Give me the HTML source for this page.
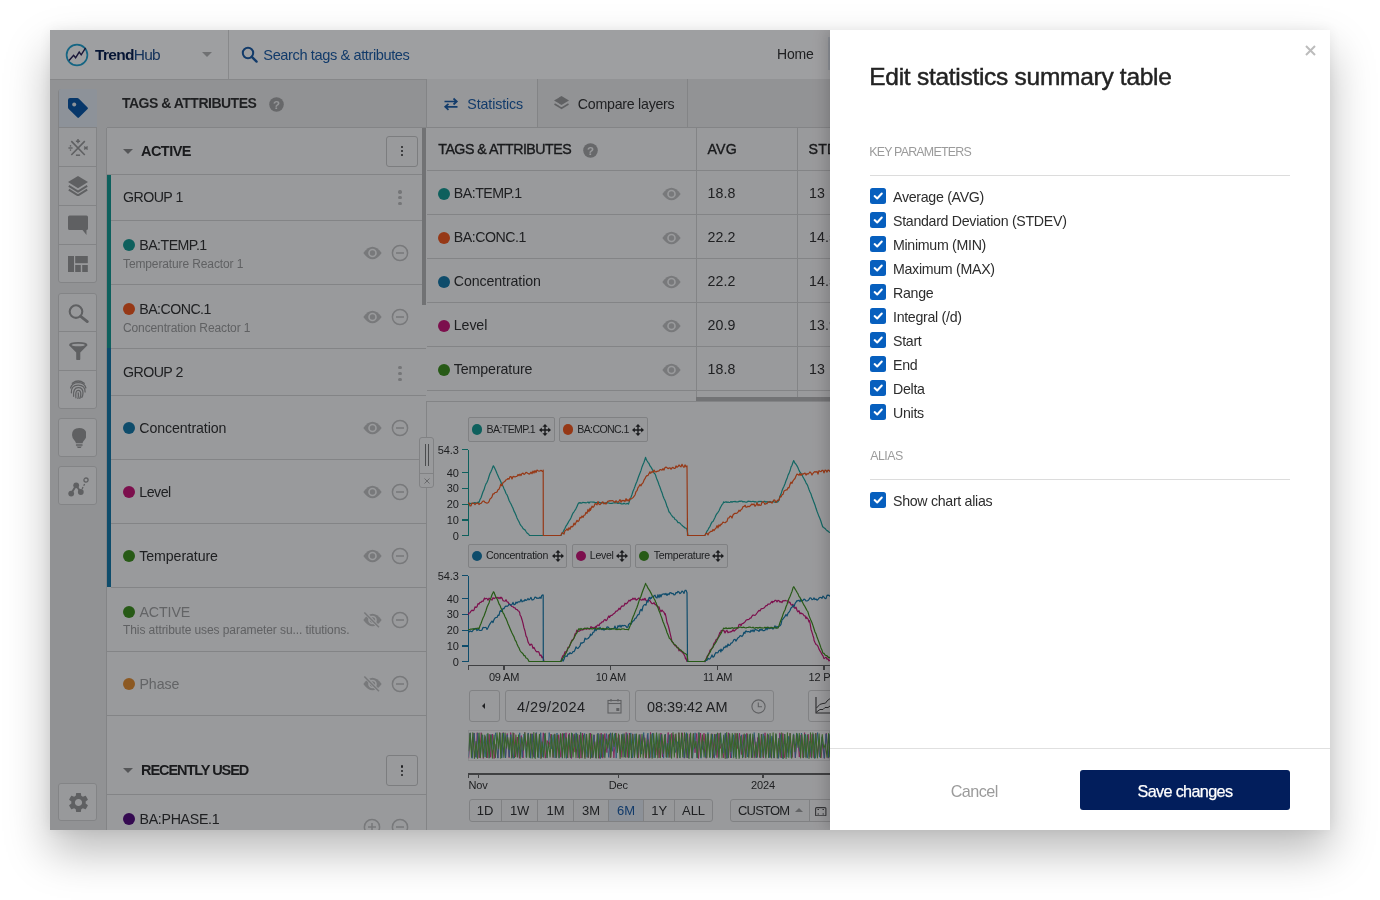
<!DOCTYPE html>
<html><head><meta charset="utf-8">
<style>
*{box-sizing:border-box;margin:0;padding:0}
html,body{width:1380px;height:900px;background:#fff;overflow:hidden}
body{position:relative;font-family:"Liberation Sans",Arial,sans-serif;color:#333}
.abs{position:absolute}
#win{position:absolute;left:50px;top:30px;width:1280px;height:800px;box-shadow:0 22px 42px rgba(0,0,0,0.27),0 0 12px rgba(0,0,0,0.06);overflow:hidden;background:#fff}
#app{will-change:transform;position:absolute;left:0;top:0;width:780px;height:800px;background:#f3f3f3;overflow:hidden}
#ov{position:absolute;left:0;top:0;width:780px;height:800px;background:rgba(0,2,7,0.38)}
#drawer{will-change:transform;position:absolute;left:0;top:0;width:1280px;height:800px;pointer-events:none}
#dpanel{position:absolute;left:780px;top:0;width:500px;height:800px;background:#fff;box-shadow:-3px 0 14px rgba(0,0,0,0.18)}
</style></head>
<body>
<div id="win">
<div id="app">
<div class="abs" style="left:0.00px;top:0.00px;width:780.00px;height:50.00px;background:#fff;"></div>
<div class="abs" style="left:0.00px;top:49.00px;width:780.00px;height:1.00px;background:#d9d9d9;"></div>
<svg class="abs" style="left:15.00px;top:13.00px;" width="24" height="24" viewBox="0 0 24 24"><circle cx="12" cy="12" r="10.4" fill="none" stroke="#23a2cf" stroke-width="1.7"/><path d="M4 17.6 L8.6 12.3 L10.6 14.8 L14.2 9 L16.2 11.8 L20.6 4.8" fill="none" stroke="#2a2458" stroke-width="1.45"/></svg>
<div class="abs" style="left:45.00px;top:14.73px;font-size:15.5px;line-height:19px;color:#0b2150;font-weight:normal;letter-spacing:-0.7px;white-space:nowrap;"><b style="color:#0b2150">Trend</b><span style="color:#24528f">Hub</span></div>
<div class="abs" style="left:152.00px;top:22.00px;width:0.00px;height:0.00px;border-left:5px solid transparent;border-right:5px solid transparent;border-top:5px solid #b5b5b5"></div>
<div class="abs" style="left:178.00px;top:0.00px;width:1.00px;height:49.00px;background:#dcdcdc;"></div>
<svg class="abs" style="left:191.00px;top:16.00px;" width="18" height="18" viewBox="0 0 18 18"><circle cx="7" cy="7" r="5.2" fill="none" stroke="#1e5ea7" stroke-width="2"/><path d="M10.8 10.8 L15.6 15.6" stroke="#1e5ea7" stroke-width="2.4" stroke-linecap="round"/></svg>
<div class="abs" style="left:213.30px;top:15.94px;font-size:14.6px;line-height:18px;color:#1e5ea7;font-weight:normal;letter-spacing:-0.4px;white-space:nowrap;">Search tags &amp; attributes</div>
<div class="abs" style="left:727.00px;top:15.85px;font-size:14px;line-height:17px;color:#333;font-weight:normal;letter-spacing:-0.2px;white-space:nowrap;">Home</div>
<div class="abs" style="left:777.50px;top:7.00px;width:2.50px;height:33.00px;background:#e2e8ef;"></div>
<div class="abs" style="left:0.00px;top:50.00px;width:56.00px;height:750.00px;background:#ebebeb;"></div>
<div class="abs" style="left:8.30px;top:58.60px;width:39.20px;height:194.40px;background:#f6f6f6;border:1px solid #d3d3d3;border-radius:3px"></div>
<div class="abs" style="left:9.10px;top:59.40px;width:37.60px;height:38.40px;background:#e4ebf3;border-radius:2px 2px 0 0"></div>
<svg class="abs" style="left:18.00px;top:68.00px;" width="20.5" height="20.5" viewBox="0 0 20.5 20.5"><path d="M0 2 Q0 0 2 0 H9.2 Q10.2 0 10.9 0.7 L19.6 9.4 Q20.4 10.2 19.6 11 L11 19.6 Q10.2 20.4 9.4 19.6 L0.7 10.9 Q0 10.2 0 9.2 Z" fill="#0c58a6"/><circle cx="6.2" cy="6.4" r="2" fill="#e5ecf3"/></svg>
<svg class="abs" style="left:18.00px;top:107.50px;" width="20" height="20" viewBox="0 0 20 20"><g stroke="#9a9a9a" fill="none"><path d="M3.3 3.1 L16.8 17 M16.8 3.1 L3.3 17" stroke-width="1.6"/><path d="M7.9 3.2 H12.1 M10 1 V5.3" stroke-width="1.5"/><path d="M7.9 17.2 H12.1" stroke-width="1.5"/><path d="M0.4 10 H4.6" stroke-width="1.4"/><path d="M16.2 8.6 L19.6 11.4 M19.6 8.6 L16.2 11.4" stroke-width="1.4"/></g><circle cx="2.5" cy="7.9" r="0.8" fill="#9a9a9a"/><circle cx="2.5" cy="12.1" r="0.8" fill="#9a9a9a"/></svg>
<svg class="abs" style="left:18.00px;top:146.00px;" width="20" height="20" viewBox="0 0 20 20"><path d="M10 0 L20 6.1 L10 12.3 L0 6.1 Z" fill="#9a9a9a"/><path d="M0.8 9.9 L10 15.6 L19.2 9.9" fill="none" stroke="#9a9a9a" stroke-width="2"/><path d="M0.8 13.7 L10 19.4 L19.2 13.7" fill="none" stroke="#9a9a9a" stroke-width="2"/></svg>
<svg class="abs" style="left:18.00px;top:184.50px;" width="20" height="20" viewBox="0 0 20 20"><path d="M1.5 0.5 H18.5 Q20 0.5 20 2 V13.5 Q20 15 18.5 15 V20 L14.5 15 H1.5 Q0 15 0 13.5 V2 Q0 0.5 1.5 0.5 Z" fill="#9a9a9a"/></svg>
<svg class="abs" style="left:18.00px;top:226.00px;" width="20" height="16" viewBox="0 0 20 16"><g fill="#9a9a9a"><rect x="0" y="0" width="6" height="16"/><rect x="7.2" y="0" width="12.6" height="7.2"/><rect x="7.2" y="9" width="5.6" height="7"/><rect x="14.2" y="9" width="5.6" height="7"/></g></svg>
<div class="abs" style="left:9.10px;top:97.00px;width:37.60px;height:1.00px;background:#d3d3d3;"></div>
<div class="abs" style="left:9.10px;top:136.00px;width:37.60px;height:1.00px;background:#d3d3d3;"></div>
<div class="abs" style="left:9.10px;top:175.00px;width:37.60px;height:1.00px;background:#d3d3d3;"></div>
<div class="abs" style="left:9.10px;top:214.00px;width:37.60px;height:1.00px;background:#d3d3d3;"></div>
<div class="abs" style="left:8.30px;top:262.70px;width:39.20px;height:116.80px;background:#f6f6f6;border:1px solid #d3d3d3;border-radius:3px"></div>
<svg class="abs" style="left:17.50px;top:273.50px;" width="21" height="19" viewBox="0 0 21 19"><circle cx="8" cy="7.6" r="6.3" fill="none" stroke="#9a9a9a" stroke-width="2.1"/><path d="M12.7 12.3 L19.3 17.6" stroke="#9a9a9a" stroke-width="2.8" stroke-linecap="round"/></svg>
<svg class="abs" style="left:19.00px;top:311.50px;" width="18.5" height="18.5" viewBox="0 0 18.5 18.5"><path d="M0 3.2 Q0 0 9.25 0 Q18.5 0 18.5 3.2 L11.3 10.5 V17 Q11.3 18.5 9.25 18.5 Q7.2 18.5 7.2 17 V10.5 Z" fill="#9a9a9a"/><ellipse cx="9.25" cy="3" rx="6.6" ry="1.3" fill="#f3f3f3"/></svg>
<svg class="abs" style="left:18.50px;top:349.50px;" width="18.5" height="19" viewBox="0 0 18.5 19"><g fill="none" stroke="#9a9a9a" stroke-width="1.25" stroke-linecap="round"><path d="M3.3 3.3 Q9.2 -1.3 15.2 3.3"/><path d="M1.6 8 Q3 2.6 9.2 2.6 Q15.6 2.6 16.9 8"/><path d="M2.4 12.8 Q1.8 5.2 9.2 5.2 Q16.2 5.2 16.1 12"/><path d="M4.6 16.3 Q3.8 7.7 9.2 7.7 Q14 7.7 14 13 Q13.9 15.6 12.8 17.4"/><path d="M6.9 17.8 Q6.2 10.3 9.2 10.3 Q11.8 10.3 11.8 14 Q11.8 16.7 10.8 18.4"/><path d="M9.2 12.8 Q9.7 16 8.9 18.6"/></g></svg>
<div class="abs" style="left:9.10px;top:301.00px;width:37.60px;height:1.00px;background:#d3d3d3;"></div>
<div class="abs" style="left:9.10px;top:340.00px;width:37.60px;height:1.00px;background:#d3d3d3;"></div>
<div class="abs" style="left:8.30px;top:388.40px;width:39.20px;height:38.60px;background:#f6f6f6;border:1px solid #d3d3d3;border-radius:3px"></div>
<svg class="abs" style="left:21.50px;top:398.00px;" width="14.5" height="20" viewBox="0 0 14.5 20"><g fill="#9a9a9a"><path d="M7.25 0 Q14.5 0 14.5 7 Q14.5 10 12 12.4 Q10.6 13.8 10.6 15.3 H3.9 Q3.9 13.8 2.5 12.4 Q0 10 0 7 Q0 0 7.25 0 Z"/><rect x="3.9" y="16.2" width="6.7" height="1.6" rx="0.5"/><path d="M4.6 18.4 H9.9 L8.6 20 H5.9 Z"/></g></svg>
<div class="abs" style="left:8.30px;top:436.40px;width:39.20px;height:38.90px;background:#f6f6f6;border:1px solid #d3d3d3;border-radius:3px"></div>
<svg class="abs" style="left:17.50px;top:446.50px;" width="21" height="20" viewBox="0 0 21 20"><path d="M3.2 16.6 L8.2 8.3 L12.6 15" fill="none" stroke="#9a9a9a" stroke-width="2"/><path d="M12.6 15 L17.3 5.5" fill="none" stroke="#9a9a9a" stroke-width="1.3" stroke-dasharray="2 1.5"/><circle cx="3.2" cy="16.6" r="2.9" fill="#9a9a9a"/><circle cx="8.2" cy="8.3" r="2.9" fill="#9a9a9a"/><circle cx="12.8" cy="15" r="2.9" fill="#9a9a9a"/><circle cx="18" cy="3.1" r="2.1" fill="none" stroke="#9a9a9a" stroke-width="1.3"/></svg>
<div class="abs" style="left:8.30px;top:752.80px;width:39.20px;height:38.20px;background:#f6f6f6;border:1px solid #d3d3d3;border-radius:3px"></div>
<svg class="abs" style="left:17.50px;top:761.50px;" width="21" height="21" viewBox="0 0 21 21"><g transform="translate(-1.5 -1.5) scale(1.0)"><path fill="#9a9a9a" d="M19.14 12.94c.04-.3.06-.61.06-.94 0-.32-.02-.64-.07-.94l2.03-1.58a.49.49 0 00.12-.61l-1.92-3.32a.488.488 0 00-.59-.22l-2.39.96c-.5-.38-1.03-.7-1.62-.94l-.36-2.54a.484.484 0 00-.48-.41h-3.84c-.24 0-.43.17-.47.41l-.36 2.54c-.59.24-1.13.57-1.62.94l-2.39-.96c-.22-.08-.47 0-.59.22L2.74 8.87c-.12.21-.08.47.12.61l2.03 1.58c-.05.3-.09.63-.09.94s.02.64.07.94l-2.03 1.58a.49.49 0 00-.12.61l1.92 3.32c.12.22.37.29.59.22l2.39-.96c.5.38 1.03.7 1.62.94l.36 2.54c.05.24.24.41.48.41h3.84c.24 0 .44-.17.47-.41l.36-2.54c.59-.24 1.13-.56 1.62-.94l2.39.96c.22.08.47 0 .59-.22l1.92-3.32c.12-.22.07-.47-.12-.61l-2.01-1.58zM12 15.6c-1.98 0-3.6-1.62-3.6-3.6s1.62-3.6 3.6-3.6 3.6 1.62 3.6 3.6-1.62 3.6-3.6 3.6z"/></g></svg>
<div class="abs" style="left:56.00px;top:50.00px;width:320.00px;height:750.00px;background:#ebebeb;"></div>
<div class="abs" style="left:72.00px;top:64.95px;font-size:14px;line-height:17px;color:#333;font-weight:bold;letter-spacing:-0.5px;white-space:nowrap;">TAGS &amp; ATTRIBUTES</div>
<svg class="abs" style="left:218.50px;top:66.50px;" width="15" height="15" viewBox="0 0 15 15"><circle cx="7.5" cy="7.5" r="7.3" fill="#a6a6a6"/><text x="7.5" y="11.8" text-anchor="middle" font-family="Liberation Sans" font-weight="bold" font-size="11.5" fill="#f0f0f0">?</text></svg>
<div class="abs" style="left:56.50px;top:97.50px;width:319.50px;height:702.50px;background:#f7f7f7;"></div>
<div class="abs" style="left:56.50px;top:97.00px;width:319.50px;height:1.00px;background:#d4d4d4;"></div>
<div class="abs" style="left:56.00px;top:97.50px;width:1.00px;height:702.50px;background:#d4d4d4;"></div>
<div class="abs" style="left:73.00px;top:119.00px;width:0.00px;height:0.00px;border-left:5px solid transparent;border-right:5px solid transparent;border-top:5px solid #8a8a8a"></div>
<div class="abs" style="left:91.00px;top:112.88px;font-size:14.5px;line-height:17px;color:#2b2b2b;font-weight:bold;letter-spacing:-0.55px;white-space:nowrap;">ACTIVE</div>
<div class="abs" style="left:336.00px;top:105.50px;width:32.00px;height:31.00px;border:1px solid #c8c8c8;border-radius:3px;background:#f7f7f7"></div>
<div class="abs" style="left:350.70px;top:115.60px;width:2.60px;height:2.60px;border-radius:50%;background:#333"></div>
<div class="abs" style="left:350.70px;top:119.70px;width:2.60px;height:2.60px;border-radius:50%;background:#333"></div>
<div class="abs" style="left:350.70px;top:123.80px;width:2.60px;height:2.60px;border-radius:50%;background:#333"></div>
<div class="abs" style="left:57.00px;top:144.00px;width:319.00px;height:1.00px;background:#d4d4d4;"></div>
<div class="abs" style="left:57.00px;top:145.00px;width:4.00px;height:173.00px;background:#189a92;"></div>
<div class="abs" style="left:73.00px;top:159.18px;font-size:14.2px;line-height:17px;color:#333;font-weight:normal;letter-spacing:-0.55px;white-space:nowrap;">GROUP 1</div>
<div class="abs" style="left:348.35px;top:160.35px;width:3.30px;height:3.30px;border-radius:50%;background:#bdbdbd"></div>
<div class="abs" style="left:348.35px;top:166.15px;width:3.30px;height:3.30px;border-radius:50%;background:#bdbdbd"></div>
<div class="abs" style="left:348.35px;top:171.95px;width:3.30px;height:3.30px;border-radius:50%;background:#bdbdbd"></div>
<div class="abs" style="left:61.00px;top:190.00px;width:315.00px;height:1.00px;background:#d4d4d4;"></div>
<div class="abs" style="left:73.00px;top:209.00px;width:12.00px;height:12.00px;border-radius:50%;background:#189a92"></div>
<div class="abs" style="left:89.30px;top:206.58px;font-size:14.2px;line-height:17px;color:#333;font-weight:normal;letter-spacing:-0.55px;white-space:nowrap;">BA:TEMP.1</div>
<div class="abs" style="left:73.00px;top:226.84px;font-size:12px;line-height:14px;color:#9b9b9b;font-weight:normal;letter-spacing:-0.12px;white-space:nowrap;">Temperature Reactor 1</div>
<svg class="abs" style="left:312.50px;top:216.00px;" width="19" height="14" viewBox="0 0 19 14"><path d="M0.3 7 Q9.5 -5.6 18.7 7 Q9.5 19.6 0.3 7 Z" fill="#c2c2c2"/><circle cx="9.5" cy="7" r="4.3" fill="#f7f7f7"/><circle cx="9.5" cy="7" r="2.7" fill="#c2c2c2"/></svg>
<svg class="abs" style="left:341.00px;top:214.00px;" width="18" height="18" viewBox="0 0 18 18"><circle cx="9" cy="9" r="7.6" fill="none" stroke="#c2c2c2" stroke-width="1.5"/><path d="M5 9 H13" stroke="#c2c2c2" stroke-width="1.6"/></svg>
<div class="abs" style="left:61.00px;top:254.00px;width:315.00px;height:1.00px;background:#d4d4d4;"></div>
<div class="abs" style="left:73.00px;top:273.00px;width:12.00px;height:12.00px;border-radius:50%;background:#f25a20"></div>
<div class="abs" style="left:89.30px;top:270.58px;font-size:14.2px;line-height:17px;color:#333;font-weight:normal;letter-spacing:-0.55px;white-space:nowrap;">BA:CONC.1</div>
<div class="abs" style="left:73.00px;top:290.84px;font-size:12px;line-height:14px;color:#9b9b9b;font-weight:normal;letter-spacing:-0.12px;white-space:nowrap;">Concentration Reactor 1</div>
<svg class="abs" style="left:312.50px;top:280.00px;" width="19" height="14" viewBox="0 0 19 14"><path d="M0.3 7 Q9.5 -5.6 18.7 7 Q9.5 19.6 0.3 7 Z" fill="#c2c2c2"/><circle cx="9.5" cy="7" r="4.3" fill="#f7f7f7"/><circle cx="9.5" cy="7" r="2.7" fill="#c2c2c2"/></svg>
<svg class="abs" style="left:341.00px;top:278.00px;" width="18" height="18" viewBox="0 0 18 18"><circle cx="9" cy="9" r="7.6" fill="none" stroke="#c2c2c2" stroke-width="1.5"/><path d="M5 9 H13" stroke="#c2c2c2" stroke-width="1.6"/></svg>
<div class="abs" style="left:61.00px;top:318.00px;width:315.00px;height:1.00px;background:#d4d4d4;"></div>
<div class="abs" style="left:57.00px;top:318.00px;width:4.00px;height:239.00px;background:#1879a9;"></div>
<div class="abs" style="left:73.00px;top:333.98px;font-size:14.2px;line-height:17px;color:#333;font-weight:normal;letter-spacing:-0.55px;white-space:nowrap;">GROUP 2</div>
<div class="abs" style="left:348.35px;top:335.95px;width:3.30px;height:3.30px;border-radius:50%;background:#bdbdbd"></div>
<div class="abs" style="left:348.35px;top:341.75px;width:3.30px;height:3.30px;border-radius:50%;background:#bdbdbd"></div>
<div class="abs" style="left:348.35px;top:347.55px;width:3.30px;height:3.30px;border-radius:50%;background:#bdbdbd"></div>
<div class="abs" style="left:61.00px;top:365.00px;width:315.00px;height:1.00px;background:#d4d4d4;"></div>
<div class="abs" style="left:73.00px;top:392.00px;width:12.00px;height:12.00px;border-radius:50%;background:#1879a9"></div>
<div class="abs" style="left:89.30px;top:389.88px;font-size:14.2px;line-height:17px;color:#333;font-weight:normal;letter-spacing:-0.1px;white-space:nowrap;">Concentration</div>
<svg class="abs" style="left:312.50px;top:391.00px;" width="19" height="14" viewBox="0 0 19 14"><path d="M0.3 7 Q9.5 -5.6 18.7 7 Q9.5 19.6 0.3 7 Z" fill="#c2c2c2"/><circle cx="9.5" cy="7" r="4.3" fill="#f7f7f7"/><circle cx="9.5" cy="7" r="2.7" fill="#c2c2c2"/></svg>
<svg class="abs" style="left:341.00px;top:389.00px;" width="18" height="18" viewBox="0 0 18 18"><circle cx="9" cy="9" r="7.6" fill="none" stroke="#c2c2c2" stroke-width="1.5"/><path d="M5 9 H13" stroke="#c2c2c2" stroke-width="1.6"/></svg>
<div class="abs" style="left:61.00px;top:429.00px;width:315.00px;height:1.00px;background:#d4d4d4;"></div>
<div class="abs" style="left:73.00px;top:456.00px;width:12.00px;height:12.00px;border-radius:50%;background:#c81878"></div>
<div class="abs" style="left:89.30px;top:453.88px;font-size:14.2px;line-height:17px;color:#333;font-weight:normal;letter-spacing:-0.5px;white-space:nowrap;">Level</div>
<svg class="abs" style="left:312.50px;top:455.00px;" width="19" height="14" viewBox="0 0 19 14"><path d="M0.3 7 Q9.5 -5.6 18.7 7 Q9.5 19.6 0.3 7 Z" fill="#c2c2c2"/><circle cx="9.5" cy="7" r="4.3" fill="#f7f7f7"/><circle cx="9.5" cy="7" r="2.7" fill="#c2c2c2"/></svg>
<svg class="abs" style="left:341.00px;top:453.00px;" width="18" height="18" viewBox="0 0 18 18"><circle cx="9" cy="9" r="7.6" fill="none" stroke="#c2c2c2" stroke-width="1.5"/><path d="M5 9 H13" stroke="#c2c2c2" stroke-width="1.6"/></svg>
<div class="abs" style="left:61.00px;top:493.00px;width:315.00px;height:1.00px;background:#d4d4d4;"></div>
<div class="abs" style="left:73.00px;top:520.00px;width:12.00px;height:12.00px;border-radius:50%;background:#409020"></div>
<div class="abs" style="left:89.30px;top:517.88px;font-size:14.2px;line-height:17px;color:#333;font-weight:normal;letter-spacing:-0.1px;white-space:nowrap;">Temperature</div>
<svg class="abs" style="left:312.50px;top:519.00px;" width="19" height="14" viewBox="0 0 19 14"><path d="M0.3 7 Q9.5 -5.6 18.7 7 Q9.5 19.6 0.3 7 Z" fill="#c2c2c2"/><circle cx="9.5" cy="7" r="4.3" fill="#f7f7f7"/><circle cx="9.5" cy="7" r="2.7" fill="#c2c2c2"/></svg>
<svg class="abs" style="left:341.00px;top:517.00px;" width="18" height="18" viewBox="0 0 18 18"><circle cx="9" cy="9" r="7.6" fill="none" stroke="#c2c2c2" stroke-width="1.5"/><path d="M5 9 H13" stroke="#c2c2c2" stroke-width="1.6"/></svg>
<div class="abs" style="left:61.00px;top:557.00px;width:315.00px;height:1.00px;background:#d4d4d4;"></div>
<div class="abs" style="left:73.00px;top:576.00px;width:12.00px;height:12.00px;border-radius:50%;background:#409020"></div>
<div class="abs" style="left:89.50px;top:574.18px;font-size:14.2px;line-height:17px;color:#a0a0a0;font-weight:normal;letter-spacing:-0.1px;white-space:nowrap;">ACTIVE</div>
<div class="abs" style="left:73.00px;top:593.44px;font-size:12px;line-height:14px;color:#9b9b9b;font-weight:normal;letter-spacing:-0.08px;white-space:nowrap;">This attribute uses parameter su... titutions.</div>
<svg class="abs" style="left:312.50px;top:582.00px;" width="19" height="16" viewBox="0 0 19 16"><path d="M0.3 8 Q9.5 -4.6 18.7 8 Q9.5 20.6 0.3 8 Z" fill="#c2c2c2"/><circle cx="9.5" cy="8" r="4.3" fill="#f7f7f7"/><circle cx="9.5" cy="8" r="2.7" fill="#c2c2c2"/><path d="M1.8 0.3 L16.2 15.6" stroke="#f7f7f7" stroke-width="3.4"/><path d="M1.3 0.5 L16 15.2" stroke="#c2c2c2" stroke-width="1.5"/></svg>
<svg class="abs" style="left:341.00px;top:581.00px;" width="18" height="18" viewBox="0 0 18 18"><circle cx="9" cy="9" r="7.6" fill="none" stroke="#c2c2c2" stroke-width="1.5"/><path d="M5 9 H13" stroke="#c2c2c2" stroke-width="1.6"/></svg>
<div class="abs" style="left:57.00px;top:621.00px;width:319.00px;height:1.00px;background:#d4d4d4;"></div>
<div class="abs" style="left:73.00px;top:648.00px;width:12.00px;height:12.00px;border-radius:50%;background:#e38f33"></div>
<div class="abs" style="left:89.50px;top:645.88px;font-size:14.2px;line-height:17px;color:#a0a0a0;font-weight:normal;letter-spacing:-0.1px;white-space:nowrap;">Phase</div>
<svg class="abs" style="left:312.50px;top:646.00px;" width="19" height="16" viewBox="0 0 19 16"><path d="M0.3 8 Q9.5 -4.6 18.7 8 Q9.5 20.6 0.3 8 Z" fill="#c2c2c2"/><circle cx="9.5" cy="8" r="4.3" fill="#f7f7f7"/><circle cx="9.5" cy="8" r="2.7" fill="#c2c2c2"/><path d="M1.8 0.3 L16.2 15.6" stroke="#f7f7f7" stroke-width="3.4"/><path d="M1.3 0.5 L16 15.2" stroke="#c2c2c2" stroke-width="1.5"/></svg>
<svg class="abs" style="left:341.00px;top:645.00px;" width="18" height="18" viewBox="0 0 18 18"><circle cx="9" cy="9" r="7.6" fill="none" stroke="#c2c2c2" stroke-width="1.5"/><path d="M5 9 H13" stroke="#c2c2c2" stroke-width="1.6"/></svg>
<div class="abs" style="left:57.00px;top:685.00px;width:319.00px;height:1.00px;background:#d4d4d4;"></div>
<div class="abs" style="left:73.00px;top:738.00px;width:0.00px;height:0.00px;border-left:5px solid transparent;border-right:5px solid transparent;border-top:5px solid #8a8a8a"></div>
<div class="abs" style="left:91.00px;top:731.98px;font-size:14.5px;line-height:17px;color:#2b2b2b;font-weight:bold;letter-spacing:-1.05px;white-space:nowrap;">RECENTLY USED</div>
<div class="abs" style="left:336.00px;top:725.30px;width:32.00px;height:31.10px;border:1px solid #c8c8c8;border-radius:3px;background:#f7f7f7"></div>
<div class="abs" style="left:350.70px;top:735.45px;width:2.60px;height:2.60px;border-radius:50%;background:#333"></div>
<div class="abs" style="left:350.70px;top:739.55px;width:2.60px;height:2.60px;border-radius:50%;background:#333"></div>
<div class="abs" style="left:350.70px;top:743.65px;width:2.60px;height:2.60px;border-radius:50%;background:#333"></div>
<div class="abs" style="left:57.00px;top:764.00px;width:319.00px;height:1.00px;background:#d4d4d4;"></div>
<div class="abs" style="left:73.00px;top:783.00px;width:12.00px;height:12.00px;border-radius:50%;background:#56107f"></div>
<div class="abs" style="left:89.50px;top:780.88px;font-size:14.2px;line-height:17px;color:#333;font-weight:normal;letter-spacing:-0.3px;white-space:nowrap;">BA:PHASE.1</div>
<svg class="abs" style="left:313.00px;top:787.50px;" width="18" height="18" viewBox="0 0 18 18"><circle cx="9" cy="9" r="7.6" fill="none" stroke="#c2c2c2" stroke-width="1.5"/><path d="M5 9 H13 M9 5 V13" stroke="#c2c2c2" stroke-width="1.6"/></svg>
<svg class="abs" style="left:341.00px;top:787.50px;" width="18" height="18" viewBox="0 0 18 18"><circle cx="9" cy="9" r="7.6" fill="none" stroke="#c2c2c2" stroke-width="1.5"/><path d="M5 9 H13" stroke="#c2c2c2" stroke-width="1.6"/></svg>
<div class="abs" style="left:372.00px;top:97.50px;width:4.00px;height:177.50px;background:#b7b7b7;"></div>
<div class="abs" style="left:376.00px;top:50.00px;width:404.00px;height:750.00px;background:#f7f7f7;"></div>
<div class="abs" style="left:376.00px;top:49.00px;width:404.00px;height:48.00px;background:#ececec;"></div>
<div class="abs" style="left:376.50px;top:49.00px;width:110.50px;height:48.00px;background:#f4f4f4;"></div>
<div class="abs" style="left:376.00px;top:49.00px;width:1.00px;height:48.00px;background:#d4d4d4;"></div>
<div class="abs" style="left:487.00px;top:49.00px;width:1.00px;height:48.00px;background:#d4d4d4;"></div>
<div class="abs" style="left:637.00px;top:49.00px;width:1.00px;height:48.00px;background:#d4d4d4;"></div>
<div class="abs" style="left:376.00px;top:97.00px;width:404.00px;height:1.00px;background:#d4d4d4;"></div>
<svg class="abs" style="left:393.00px;top:67.00px;" width="16" height="14" viewBox="0 0 16 14"><path d="M1.5 4.5 H13.5 M10.5 1.5 L13.8 4.5 L10.5 7.5" fill="none" stroke="#1e5ea7" stroke-width="1.7"/><path d="M14.5 9.8 H2.5 M5.5 6.8 L2.2 9.8 L5.5 12.8" fill="none" stroke="#1e5ea7" stroke-width="1.7"/></svg>
<div class="abs" style="left:417.30px;top:66.18px;font-size:14.2px;line-height:17px;color:#1e5ea7;font-weight:normal;letter-spacing:-0.1px;white-space:nowrap;">Statistics</div>
<svg class="abs" style="left:503.00px;top:65.00px;" width="17" height="17" viewBox="0 0 17 17"><path d="M8.5 1 L16 5.5 L8.5 10 L1 5.5 Z" fill="#9c9c9c"/><path d="M1.5 9 L8.5 13.2 L15.5 9" fill="none" stroke="#9c9c9c" stroke-width="1.6"/></svg>
<div class="abs" style="left:527.80px;top:66.18px;font-size:14.2px;line-height:17px;color:#333;font-weight:normal;letter-spacing:-0.25px;white-space:nowrap;">Compare layers</div>
<div class="abs" style="left:376.50px;top:97.50px;width:403.50px;height:273.50px;background:#f7f7f7;"></div>
<div class="abs" style="left:646.00px;top:97.50px;width:1.00px;height:273.50px;background:#d4d4d4;"></div>
<div class="abs" style="left:747.00px;top:97.50px;width:1.00px;height:273.50px;background:#d4d4d4;"></div>
<div class="abs" style="left:388.30px;top:110.78px;font-size:14.2px;line-height:17px;color:#2a2a2a;font-weight:normal;letter-spacing:-0.5px;white-space:nowrap;-webkit-text-stroke:0.35px #2a2a2a">TAGS &amp; ATTRIBUTES</div>
<svg class="abs" style="left:533.00px;top:112.70px;" width="15" height="15" viewBox="0 0 15 15"><circle cx="7.5" cy="7.5" r="7.3" fill="#a6a6a6"/><text x="7.5" y="11.8" text-anchor="middle" font-family="Liberation Sans" font-weight="bold" font-size="11.5" fill="#f7f7f7">?</text></svg>
<div class="abs" style="left:657.60px;top:110.78px;font-size:14.2px;line-height:17px;color:#2a2a2a;font-weight:normal;letter-spacing:0.1px;white-space:nowrap;-webkit-text-stroke:0.35px #2a2a2a">AVG</div>
<div class="abs" style="left:758.60px;top:110.78px;font-size:14.2px;line-height:17px;color:#2a2a2a;font-weight:normal;letter-spacing:0.1px;white-space:nowrap;-webkit-text-stroke:0.35px #2a2a2a">STDEV</div>
<div class="abs" style="left:376.50px;top:140.00px;width:403.50px;height:1.00px;background:#d4d4d4;"></div>
<div class="abs" style="left:387.90px;top:157.60px;width:12.00px;height:12.00px;border-radius:50%;background:#189a92"></div>
<div class="abs" style="left:403.80px;top:155.18px;font-size:14.2px;line-height:17px;color:#333;font-weight:normal;letter-spacing:-0.5px;white-space:nowrap;">BA:TEMP.1</div>
<svg class="abs" style="left:612.20px;top:156.60px;" width="19" height="14" viewBox="0 0 19 14"><path d="M0.3 7 Q9.5 -5.6 18.7 7 Q9.5 19.6 0.3 7 Z" fill="#c2c2c2"/><circle cx="9.5" cy="7" r="4.3" fill="#f7f7f7"/><circle cx="9.5" cy="7" r="2.7" fill="#c2c2c2"/></svg>
<div class="abs" style="left:657.60px;top:155.18px;font-size:14.2px;line-height:17px;color:#333;font-weight:normal;letter-spacing:0.1px;white-space:nowrap;">18.8</div>
<div class="abs" style="left:759.00px;top:155.18px;font-size:14.2px;line-height:17px;color:#333;font-weight:normal;letter-spacing:0.1px;white-space:nowrap;">13</div>
<div class="abs" style="left:376.50px;top:184.00px;width:403.50px;height:1.00px;background:#d4d4d4;"></div>
<div class="abs" style="left:387.90px;top:201.60px;width:12.00px;height:12.00px;border-radius:50%;background:#f25a20"></div>
<div class="abs" style="left:403.80px;top:199.18px;font-size:14.2px;line-height:17px;color:#333;font-weight:normal;letter-spacing:-0.5px;white-space:nowrap;">BA:CONC.1</div>
<svg class="abs" style="left:612.20px;top:200.60px;" width="19" height="14" viewBox="0 0 19 14"><path d="M0.3 7 Q9.5 -5.6 18.7 7 Q9.5 19.6 0.3 7 Z" fill="#c2c2c2"/><circle cx="9.5" cy="7" r="4.3" fill="#f7f7f7"/><circle cx="9.5" cy="7" r="2.7" fill="#c2c2c2"/></svg>
<div class="abs" style="left:657.60px;top:199.18px;font-size:14.2px;line-height:17px;color:#333;font-weight:normal;letter-spacing:0.1px;white-space:nowrap;">22.2</div>
<div class="abs" style="left:759.00px;top:199.18px;font-size:14.2px;line-height:17px;color:#333;font-weight:normal;letter-spacing:0.1px;white-space:nowrap;">14.5</div>
<div class="abs" style="left:376.50px;top:228.00px;width:403.50px;height:1.00px;background:#d4d4d4;"></div>
<div class="abs" style="left:387.90px;top:245.60px;width:12.00px;height:12.00px;border-radius:50%;background:#1879a9"></div>
<div class="abs" style="left:403.80px;top:243.18px;font-size:14.2px;line-height:17px;color:#333;font-weight:normal;letter-spacing:-0.1px;white-space:nowrap;">Concentration</div>
<svg class="abs" style="left:612.20px;top:244.60px;" width="19" height="14" viewBox="0 0 19 14"><path d="M0.3 7 Q9.5 -5.6 18.7 7 Q9.5 19.6 0.3 7 Z" fill="#c2c2c2"/><circle cx="9.5" cy="7" r="4.3" fill="#f7f7f7"/><circle cx="9.5" cy="7" r="2.7" fill="#c2c2c2"/></svg>
<div class="abs" style="left:657.60px;top:243.18px;font-size:14.2px;line-height:17px;color:#333;font-weight:normal;letter-spacing:0.1px;white-space:nowrap;">22.2</div>
<div class="abs" style="left:759.00px;top:243.18px;font-size:14.2px;line-height:17px;color:#333;font-weight:normal;letter-spacing:0.1px;white-space:nowrap;">14.5</div>
<div class="abs" style="left:376.50px;top:272.00px;width:403.50px;height:1.00px;background:#d4d4d4;"></div>
<div class="abs" style="left:387.90px;top:289.60px;width:12.00px;height:12.00px;border-radius:50%;background:#c81878"></div>
<div class="abs" style="left:403.80px;top:287.18px;font-size:14.2px;line-height:17px;color:#333;font-weight:normal;letter-spacing:-0.1px;white-space:nowrap;">Level</div>
<svg class="abs" style="left:612.20px;top:288.60px;" width="19" height="14" viewBox="0 0 19 14"><path d="M0.3 7 Q9.5 -5.6 18.7 7 Q9.5 19.6 0.3 7 Z" fill="#c2c2c2"/><circle cx="9.5" cy="7" r="4.3" fill="#f7f7f7"/><circle cx="9.5" cy="7" r="2.7" fill="#c2c2c2"/></svg>
<div class="abs" style="left:657.60px;top:287.18px;font-size:14.2px;line-height:17px;color:#333;font-weight:normal;letter-spacing:0.1px;white-space:nowrap;">20.9</div>
<div class="abs" style="left:759.00px;top:287.18px;font-size:14.2px;line-height:17px;color:#333;font-weight:normal;letter-spacing:0.1px;white-space:nowrap;">13.9</div>
<div class="abs" style="left:376.50px;top:316.00px;width:403.50px;height:1.00px;background:#d4d4d4;"></div>
<div class="abs" style="left:387.90px;top:333.60px;width:12.00px;height:12.00px;border-radius:50%;background:#409020"></div>
<div class="abs" style="left:403.80px;top:331.18px;font-size:14.2px;line-height:17px;color:#333;font-weight:normal;letter-spacing:-0.1px;white-space:nowrap;">Temperature</div>
<svg class="abs" style="left:612.20px;top:332.60px;" width="19" height="14" viewBox="0 0 19 14"><path d="M0.3 7 Q9.5 -5.6 18.7 7 Q9.5 19.6 0.3 7 Z" fill="#c2c2c2"/><circle cx="9.5" cy="7" r="4.3" fill="#f7f7f7"/><circle cx="9.5" cy="7" r="2.7" fill="#c2c2c2"/></svg>
<div class="abs" style="left:657.60px;top:331.18px;font-size:14.2px;line-height:17px;color:#333;font-weight:normal;letter-spacing:0.1px;white-space:nowrap;">18.8</div>
<div class="abs" style="left:759.00px;top:331.18px;font-size:14.2px;line-height:17px;color:#333;font-weight:normal;letter-spacing:0.1px;white-space:nowrap;">13</div>
<div class="abs" style="left:376.50px;top:360.00px;width:403.50px;height:1.00px;background:#d4d4d4;"></div>
<div class="abs" style="left:646.30px;top:366.60px;width:133.70px;height:4.40px;background:#b9b9b9;"></div>
<div class="abs" style="left:376.50px;top:371.00px;width:403.50px;height:1.00px;background:#d4d4d4;"></div>
<div class="abs" style="left:376.00px;top:371.00px;width:1.00px;height:429.00px;background:#d4d4d4;"></div>
<div class="abs" style="left:417.90px;top:387.40px;width:86.70px;height:24.30px;border:1px solid #cfcfcf;border-radius:2px;background:#f4f4f4"></div>
<div class="abs" style="left:421.90px;top:394.45px;width:10.20px;height:10.20px;border-radius:50%;background:#189a92"></div>
<div class="abs" style="left:436.60px;top:393.18px;font-size:10.6px;line-height:13px;color:#333;font-weight:normal;letter-spacing:-0.62px;white-space:nowrap;">BA:TEMP.1</div>
<svg class="abs" style="left:488.80px;top:393.55px;" width="12" height="12" viewBox="0 0 12 12"><g fill="#2a2a2a"><path d="M6 0 L8.6 2.8 H3.4 Z M6 12 L8.6 9.2 H3.4 Z M0 6 L2.8 3.4 V8.6 Z M12 6 L9.2 3.4 V8.6 Z"/></g><path d="M6 2 V10 M2 6 H10" stroke="#2a2a2a" stroke-width="1.4"/></svg>
<div class="abs" style="left:508.50px;top:387.40px;width:89.30px;height:24.30px;border:1px solid #cfcfcf;border-radius:2px;background:#f4f4f4"></div>
<div class="abs" style="left:512.50px;top:394.45px;width:10.20px;height:10.20px;border-radius:50%;background:#f25a20"></div>
<div class="abs" style="left:527.20px;top:393.18px;font-size:10.6px;line-height:13px;color:#333;font-weight:normal;letter-spacing:-0.62px;white-space:nowrap;">BA:CONC.1</div>
<svg class="abs" style="left:582.20px;top:393.55px;" width="12" height="12" viewBox="0 0 12 12"><g fill="#2a2a2a"><path d="M6 0 L8.6 2.8 H3.4 Z M6 12 L8.6 9.2 H3.4 Z M0 6 L2.8 3.4 V8.6 Z M12 6 L9.2 3.4 V8.6 Z"/></g><path d="M6 2 V10 M2 6 H10" stroke="#2a2a2a" stroke-width="1.4"/></svg>
<div class="abs" style="left:417.70px;top:513.70px;width:99.80px;height:24.30px;border:1px solid #cfcfcf;border-radius:2px;background:#f4f4f4"></div>
<div class="abs" style="left:421.80px;top:520.75px;width:10.20px;height:10.20px;border-radius:50%;background:#1879a9"></div>
<div class="abs" style="left:436.00px;top:519.48px;font-size:10.6px;line-height:13px;color:#333;font-weight:normal;letter-spacing:-0.3px;white-space:nowrap;">Concentration</div>
<svg class="abs" style="left:502.20px;top:519.85px;" width="12" height="12" viewBox="0 0 12 12"><g fill="#2a2a2a"><path d="M6 0 L8.6 2.8 H3.4 Z M6 12 L8.6 9.2 H3.4 Z M0 6 L2.8 3.4 V8.6 Z M12 6 L9.2 3.4 V8.6 Z"/></g><path d="M6 2 V10 M2 6 H10" stroke="#2a2a2a" stroke-width="1.4"/></svg>
<div class="abs" style="left:521.60px;top:513.70px;width:59.80px;height:24.30px;border:1px solid #cfcfcf;border-radius:2px;background:#f4f4f4"></div>
<div class="abs" style="left:525.60px;top:520.75px;width:10.20px;height:10.20px;border-radius:50%;background:#c81878"></div>
<div class="abs" style="left:539.80px;top:519.48px;font-size:10.6px;line-height:13px;color:#333;font-weight:normal;letter-spacing:-0.3px;white-space:nowrap;">Level</div>
<svg class="abs" style="left:565.70px;top:519.85px;" width="12" height="12" viewBox="0 0 12 12"><g fill="#2a2a2a"><path d="M6 0 L8.6 2.8 H3.4 Z M6 12 L8.6 9.2 H3.4 Z M0 6 L2.8 3.4 V8.6 Z M12 6 L9.2 3.4 V8.6 Z"/></g><path d="M6 2 V10 M2 6 H10" stroke="#2a2a2a" stroke-width="1.4"/></svg>
<div class="abs" style="left:585.00px;top:513.70px;width:92.70px;height:24.30px;border:1px solid #cfcfcf;border-radius:2px;background:#f4f4f4"></div>
<div class="abs" style="left:589.10px;top:520.75px;width:10.20px;height:10.20px;border-radius:50%;background:#409020"></div>
<div class="abs" style="left:603.70px;top:519.48px;font-size:10.6px;line-height:13px;color:#333;font-weight:normal;letter-spacing:-0.3px;white-space:nowrap;">Temperature</div>
<svg class="abs" style="left:662.00px;top:519.85px;" width="12" height="12" viewBox="0 0 12 12"><g fill="#2a2a2a"><path d="M6 0 L8.6 2.8 H3.4 Z M6 12 L8.6 9.2 H3.4 Z M0 6 L2.8 3.4 V8.6 Z M12 6 L9.2 3.4 V8.6 Z"/></g><path d="M6 2 V10 M2 6 H10" stroke="#2a2a2a" stroke-width="1.4"/></svg>
<div class="abs" style="left:369.40px;top:407.20px;width:15.00px;height:51.20px;border:1px solid #d0d0d0;border-radius:3px;background:#f7f7f7"></div>
<div class="abs" style="left:370.00px;top:443.00px;width:14.00px;height:1.00px;background:#d0d0d0;"></div>
<div class="abs" style="left:375.00px;top:414.20px;width:1.10px;height:21.80px;background:#7a7a7a;"></div>
<div class="abs" style="left:378.00px;top:414.20px;width:1.10px;height:21.80px;background:#7a7a7a;"></div>
<svg class="abs" style="left:373.50px;top:448.40px;" width="6" height="6" viewBox="0 0 6 6"><path d="M0.5 0.5 L5.5 5.5 M5.5 0.5 L0.5 5.5" stroke="#aaa" stroke-width="1"/></svg>
<svg class="abs" style="left:410.00px;top:417.50px;" width="12" height="92" viewBox="0 0 12 92"></svg>
<div class="abs" style="left:417.60px;top:419.70px;width:1.30px;height:86.50px;background:#189a92;"></div>
<div class="abs" style="left:412.20px;top:419.15px;width:5.80px;height:1.30px;background:#189a92;"></div>
<div class="abs" style="left:380.00px;top:412.80px;width:28.80px;height:14.00px;font-size:11px;line-height:14px;text-align:right;color:#333;letter-spacing:-0.1px">54.3</div>
<div class="abs" style="left:412.20px;top:441.85px;width:5.80px;height:1.30px;background:#189a92;"></div>
<div class="abs" style="left:380.00px;top:435.50px;width:28.80px;height:14.00px;font-size:11px;line-height:14px;text-align:right;color:#333;letter-spacing:-0.1px">40</div>
<div class="abs" style="left:412.20px;top:457.65px;width:5.80px;height:1.30px;background:#189a92;"></div>
<div class="abs" style="left:380.00px;top:451.30px;width:28.80px;height:14.00px;font-size:11px;line-height:14px;text-align:right;color:#333;letter-spacing:-0.1px">30</div>
<div class="abs" style="left:412.20px;top:473.55px;width:5.80px;height:1.30px;background:#189a92;"></div>
<div class="abs" style="left:380.00px;top:467.20px;width:28.80px;height:14.00px;font-size:11px;line-height:14px;text-align:right;color:#333;letter-spacing:-0.1px">20</div>
<div class="abs" style="left:412.20px;top:489.35px;width:5.80px;height:1.30px;background:#189a92;"></div>
<div class="abs" style="left:380.00px;top:483.00px;width:28.80px;height:14.00px;font-size:11px;line-height:14px;text-align:right;color:#333;letter-spacing:-0.1px">10</div>
<div class="abs" style="left:412.20px;top:504.85px;width:5.80px;height:1.30px;background:#189a92;"></div>
<div class="abs" style="left:380.00px;top:498.50px;width:28.80px;height:14.00px;font-size:11px;line-height:14px;text-align:right;color:#333;letter-spacing:-0.1px">0</div>
<svg class="abs" style="left:410.00px;top:543.50px;" width="12" height="92" viewBox="0 0 12 92"></svg>
<div class="abs" style="left:417.60px;top:545.70px;width:1.30px;height:86.50px;background:#1879a9;"></div>
<div class="abs" style="left:412.20px;top:545.15px;width:5.80px;height:1.30px;background:#1879a9;"></div>
<div class="abs" style="left:380.00px;top:538.80px;width:28.80px;height:14.00px;font-size:11px;line-height:14px;text-align:right;color:#333;letter-spacing:-0.1px">54.3</div>
<div class="abs" style="left:412.20px;top:567.85px;width:5.80px;height:1.30px;background:#1879a9;"></div>
<div class="abs" style="left:380.00px;top:561.50px;width:28.80px;height:14.00px;font-size:11px;line-height:14px;text-align:right;color:#333;letter-spacing:-0.1px">40</div>
<div class="abs" style="left:412.20px;top:583.65px;width:5.80px;height:1.30px;background:#1879a9;"></div>
<div class="abs" style="left:380.00px;top:577.30px;width:28.80px;height:14.00px;font-size:11px;line-height:14px;text-align:right;color:#333;letter-spacing:-0.1px">30</div>
<div class="abs" style="left:412.20px;top:599.55px;width:5.80px;height:1.30px;background:#1879a9;"></div>
<div class="abs" style="left:380.00px;top:593.20px;width:28.80px;height:14.00px;font-size:11px;line-height:14px;text-align:right;color:#333;letter-spacing:-0.1px">20</div>
<div class="abs" style="left:412.20px;top:615.35px;width:5.80px;height:1.30px;background:#1879a9;"></div>
<div class="abs" style="left:380.00px;top:609.00px;width:28.80px;height:14.00px;font-size:11px;line-height:14px;text-align:right;color:#333;letter-spacing:-0.1px">10</div>
<div class="abs" style="left:412.20px;top:630.85px;width:5.80px;height:1.30px;background:#1879a9;"></div>
<div class="abs" style="left:380.00px;top:624.50px;width:28.80px;height:14.00px;font-size:11px;line-height:14px;text-align:right;color:#333;letter-spacing:-0.1px">0</div>
<svg class="abs" style="left:0;top:0;overflow:visible" width="780" height="800"><defs><clipPath id="cc"><rect x="418" y="410" width="362" height="240"/></clipPath></defs><g clip-path="url(#cc)"><polyline points="418.0,474.3 419.0,473.4 420.0,473.3 421.0,473.8 422.0,473.4 423.0,473.3 424.0,472.9 425.0,472.6 426.0,473.2 427.0,473.1 428.0,472.1 429.0,472.4 430.0,469.5 431.0,467.7 432.0,464.7 433.0,461.8 434.0,459.8 435.0,456.4 436.0,453.9 437.0,452.2 438.0,449.7 439.0,446.5 440.0,443.5 441.0,441.6 442.0,439.2 443.0,436.4 443.4,435.8 444.0,436.9 445.0,438.8 446.0,441.0 447.0,443.5 448.0,445.7 449.0,448.0 450.0,449.9 451.0,452.3 452.0,454.8 453.0,456.1 454.0,458.7 455.0,460.8 456.0,463.5 457.0,464.8 458.0,467.2 459.0,470.2 460.0,472.2 461.0,474.0 462.0,476.3 463.0,478.3 464.0,481.1 465.0,482.9 466.0,485.3 467.0,487.9 468.0,489.9 469.0,491.8 470.0,494.1 471.0,495.6 472.0,496.7 473.0,498.5 474.0,499.4 475.0,499.9 476.0,501.5 477.0,503.0 478.0,503.7 479.0,504.7 479.5,505.5 480.0,505.5 481.0,505.5 482.0,505.5 483.0,505.5 484.0,505.5 485.0,505.5 486.0,505.5 487.0,505.5 488.0,505.5 489.0,505.5 490.0,505.5 491.0,505.5 492.0,505.5 493.0,505.5 494.0,505.5 495.0,505.5 496.0,505.5 497.0,505.5 498.0,505.5 499.0,505.5 500.0,505.5 501.0,505.5 502.0,505.5 503.0,505.5 504.0,505.5 505.0,505.5 506.0,505.5 507.0,505.5 508.0,505.5 509.0,505.5 510.0,505.5 511.0,505.5 512.0,503.5 513.0,502.0 514.0,500.1 515.0,498.2 516.0,496.1 517.0,494.6 518.0,492.9 519.0,491.0 520.0,489.7 521.0,487.8 522.0,485.3 523.0,483.1 524.0,481.8 525.0,480.2 526.0,478.6 527.0,476.4 528.0,474.1 528.8,472.8 529.0,473.1 530.0,472.6 531.0,473.3 532.0,472.9 533.0,472.3 534.0,472.7 535.0,472.7 536.0,472.9 537.0,472.5 538.0,472.0 539.0,473.0 540.0,472.0 541.0,472.0 542.0,472.0 543.0,472.2 544.0,472.1 545.0,472.5 546.0,472.5 547.0,472.7 548.0,473.1 549.0,472.2 550.0,472.6 551.0,473.0 552.0,472.7 553.0,472.8 554.0,473.0 555.0,473.0 556.0,472.8 557.0,472.8 558.0,472.8 559.0,473.0 560.0,473.5 561.0,473.3 562.0,473.4 563.0,473.0 564.0,472.7 565.0,472.8 566.0,472.9 567.0,472.9 568.0,473.5 569.0,472.9 570.0,473.1 571.0,473.8 572.0,473.9 573.0,474.0 574.0,473.2 575.0,473.8 576.0,474.0 577.0,473.4 578.0,473.8 578.5,474.1 579.0,472.6 580.0,469.5 581.0,467.3 582.0,464.5 583.0,461.3 584.0,458.9 585.0,456.3 586.0,453.5 587.0,451.3 588.0,448.2 589.0,445.5 590.0,443.0 591.0,440.4 592.0,436.9 593.0,434.6 594.0,432.3 595.0,429.2 595.6,427.3 596.0,428.9 597.0,430.7 598.0,432.3 599.0,433.5 600.0,435.9 601.0,437.1 602.0,438.9 603.0,440.8 604.0,443.0 605.0,443.9 605.6,445.2 606.0,446.6 607.0,449.6 608.0,451.8 609.0,454.8 610.0,457.3 611.0,460.3 612.0,462.7 613.0,466.0 614.0,468.4 615.0,470.4 616.0,473.2 617.0,476.6 618.0,478.6 619.0,482.0 619.2,481.8 620.0,482.9 621.0,484.5 622.0,485.8 623.0,487.2 624.0,487.4 625.0,489.5 626.0,489.8 627.0,490.8 627.4,491.7 628.0,492.6 629.0,492.6 630.0,493.2 631.0,494.3 632.0,495.3 633.0,496.2 634.0,497.0 635.0,498.0 636.0,498.2 637.0,499.3 638.0,505.5 639.0,505.5 640.0,505.5 641.0,505.5 642.0,505.5 643.0,505.5 644.0,505.5 645.0,505.5 646.0,505.5 647.0,505.5 648.0,505.5 649.0,505.5 650.0,505.5 651.0,505.5 652.0,505.5 653.0,505.5 654.0,505.5 654.6,505.5 655.0,505.1 656.0,503.5 657.0,501.1 658.0,499.8 659.0,497.8 660.0,496.3 661.0,493.9 662.0,492.1 663.0,491.4 664.0,489.4 665.0,487.5 666.0,485.1 667.0,483.5 668.0,482.3 669.0,480.7 670.0,478.4 671.0,476.5 672.0,474.7 673.0,473.6 673.6,471.9 674.0,472.1 675.0,472.3 676.0,471.7 677.0,472.5 678.0,471.9 679.0,472.5 680.0,472.4 681.0,471.5 682.0,472.3 683.0,471.6 684.0,471.7 685.0,471.4 686.0,471.9 687.0,471.9 688.0,471.9 689.0,471.2 690.0,471.4 691.0,471.1 692.0,471.1 693.0,472.0 694.0,471.5 695.0,472.0 696.0,472.1 697.0,472.1 698.0,471.2 699.0,471.3 700.0,471.3 701.0,471.8 702.0,471.5 703.0,471.3 704.0,471.8 705.0,471.6 706.0,472.0 707.0,472.2 708.0,472.0 709.0,471.3 710.0,471.6 711.0,471.3 712.0,471.8 713.0,472.0 714.0,471.4 715.0,471.4 716.0,472.3 717.0,471.6 718.0,472.2 719.0,472.2 720.0,471.4 721.0,472.3 722.0,472.1 723.0,471.3 724.0,471.9 725.0,472.3 726.0,472.2 727.0,472.1 728.0,471.6 729.0,469.7 730.0,466.1 731.0,464.1 732.0,460.8 733.0,458.2 734.0,456.3 735.0,453.7 736.0,450.8 737.0,448.6 738.0,445.3 739.0,443.4 740.0,440.8 741.0,437.1 742.0,435.2 743.0,432.2 743.7,430.6 744.0,431.2 745.0,433.3 746.0,434.2 747.0,435.9 748.0,437.7 749.0,440.4 750.0,442.1 751.0,443.4 752.0,444.8 753.0,447.1 754.0,448.7 755.0,450.6 756.0,452.8 757.0,454.3 757.8,456.0 758.0,456.6 759.0,459.5 760.0,462.0 761.0,464.0 762.0,467.3 763.0,469.8 764.0,472.6 765.0,475.0 766.0,478.3 767.0,481.2 768.0,483.9 769.0,486.6 770.0,488.8 771.0,491.5 772.0,494.8 772.8,497.0 773.0,496.9 774.0,497.7 775.0,498.4 776.0,499.6 777.0,500.6 778.0,501.1 779.0,502.1 780.0,502.3 781.0,503.6 782.0,504.4" fill="none" stroke="#1fa59c" stroke-width="1.2" stroke-linejoin="round"/><polyline points="418.0,473.1 419.0,473.0 420.0,476.0 421.0,475.8 422.0,473.0 423.0,473.3 424.0,473.4 425.0,474.5 426.0,473.3 427.0,473.2 428.0,473.2 429.0,474.5 430.0,473.5 431.0,473.5 432.0,472.2 433.0,471.1 434.0,471.2 435.0,472.4 436.0,472.7 437.0,473.1 438.0,472.8 439.0,471.6 440.0,468.9 441.0,468.2 442.0,466.8 443.0,463.8 444.0,463.8 445.0,462.5 446.0,462.4 447.0,462.0 448.0,459.7 449.0,459.2 450.0,456.7 450.8,454.0 451.0,455.0 452.0,455.8 453.0,452.5 454.0,452.0 455.0,451.3 456.0,449.8 457.0,449.5 458.0,448.5 459.0,449.2 460.0,446.7 461.0,446.5 462.0,448.9 463.0,446.6 464.0,446.4 465.0,447.0 466.0,446.5 467.0,446.3 468.0,444.5 469.0,445.7 470.0,444.2 471.0,445.6 472.0,443.5 473.0,443.1 474.0,444.4 475.0,443.7 476.0,442.3 477.0,442.8 478.0,443.4 479.0,444.1 480.0,443.6 481.0,442.1 482.0,443.7 483.0,441.0 484.0,443.0 485.0,440.6 486.0,442.5 487.0,440.0 488.0,440.7 489.0,441.2 490.0,441.0 491.0,440.3 491.5,440.5 492.0,441.3 493.0,441.4 493.2,440.2 493.3,505.5 494.0,505.5 495.0,505.5 496.0,505.5 497.0,505.5 498.0,505.5 499.0,505.5 500.0,505.5 501.0,505.5 502.0,505.5 503.0,505.5 504.0,505.5 505.0,505.5 506.0,505.5 507.0,505.5 508.0,505.5 509.0,505.5 510.0,505.5 510.5,505.5 511.0,505.1 512.0,502.8 513.0,503.0 514.0,504.1 515.0,500.7 516.0,500.2 517.0,498.8 518.0,500.4 519.0,497.7 520.0,499.3 521.0,496.4 522.0,496.9 523.0,496.2 524.0,493.1 525.0,494.9 526.0,492.4 527.0,490.3 528.0,491.5 529.0,490.6 530.0,487.3 531.0,488.0 532.0,486.0 533.0,487.4 534.0,485.3 535.0,485.0 536.0,482.3 537.0,483.4 538.0,479.4 539.0,481.7 540.0,478.2 540.4,480.3 541.0,478.9 542.0,476.1 543.0,477.4 544.0,476.4 545.0,473.7 546.0,473.8 547.0,474.9 548.0,471.5 549.0,474.3 550.0,474.6 551.0,473.5 552.0,472.4 553.0,471.9 554.0,473.9 555.0,473.0 556.0,474.0 557.0,472.4 558.0,471.2 559.0,471.2 560.0,470.6 561.0,471.0 562.0,470.5 563.0,470.9 564.0,471.6 565.0,472.4 566.0,470.7 567.0,471.8 568.0,472.5 569.0,471.2 570.0,469.6 571.0,472.1 572.0,470.4 573.0,470.9 574.0,470.4 575.0,471.6 576.0,468.6 577.0,471.0 578.0,469.7 578.5,470.3 579.0,471.2 580.0,468.4 581.0,469.0 582.0,468.4 583.0,467.6 584.0,466.3 585.0,465.0 586.0,461.7 587.0,460.7 588.0,457.6 589.0,456.3 590.0,454.6 591.0,455.8 592.0,453.7 593.0,452.9 594.0,450.2 595.0,448.7 596.0,446.6 597.0,445.5 598.0,445.6 599.0,443.6 600.0,441.7 600.2,443.3 601.0,443.0 602.0,441.5 603.0,442.4 604.0,440.1 605.0,441.6 606.0,441.9 607.0,441.4 608.0,441.1 609.0,440.9 610.0,439.7 611.0,439.7 612.0,440.1 613.0,438.7 614.0,440.1 615.0,437.5 616.0,437.1 617.0,437.7 618.0,438.6 619.0,438.1 620.0,437.7 621.0,439.3 622.0,437.9 623.0,437.4 624.0,438.4 625.0,438.5 626.0,435.9 627.0,437.3 628.0,436.6 629.0,435.0 630.0,436.0 631.0,436.9 632.0,434.3 633.0,436.3 634.0,437.4 635.0,434.9 636.0,436.8 637.0,435.9 637.5,505.5 638.0,505.5 639.0,505.5 640.0,505.5 641.0,505.5 642.0,505.5 643.0,505.5 644.0,505.5 645.0,505.5 646.0,505.5 647.0,505.5 648.0,505.5 649.0,505.5 650.0,505.5 651.0,505.5 652.0,505.5 653.0,505.5 654.0,505.5 654.6,505.5 655.0,505.2 656.0,503.4 657.0,503.3 658.0,504.9 659.0,502.7 660.0,502.1 661.0,501.2 662.0,501.5 663.0,499.5 664.0,500.6 665.0,499.2 666.0,498.2 667.0,495.6 668.0,497.9 669.0,494.8 670.0,496.1 670.9,494.2 671.0,494.7 672.0,493.8 673.0,492.0 674.0,492.5 675.0,492.8 676.0,492.0 677.0,491.4 678.0,488.0 679.0,488.0 680.0,486.2 681.0,486.4 682.0,488.0 683.0,485.0 684.0,483.9 685.0,483.4 686.0,483.4 687.0,483.2 688.0,482.1 689.0,480.2 690.0,481.3 691.0,479.7 692.0,479.1 693.0,476.7 694.0,476.5 695.0,475.3 695.3,475.4 696.0,477.2 697.0,477.2 698.0,476.2 699.0,476.8 700.0,476.0 701.0,475.0 702.0,474.0 703.0,474.9 704.0,473.9 705.0,476.3 706.0,475.2 707.0,472.8 708.0,475.6 709.0,474.4 710.0,475.5 711.0,475.2 712.0,472.2 713.0,471.7 714.0,472.7 715.0,474.4 716.0,473.6 717.0,473.7 718.0,472.0 719.0,471.7 720.0,472.4 721.0,471.9 722.0,473.2 723.0,471.5 724.0,469.9 725.0,470.4 726.0,472.5 727.0,470.9 728.0,470.0 729.0,470.3 730.0,466.7 731.0,466.9 732.0,464.7 733.0,464.4 734.0,461.1 735.0,460.5 736.0,459.9 737.0,460.0 738.0,457.7 739.0,457.8 740.0,454.5 741.0,452.1 742.0,453.3 743.0,450.8 744.0,449.5 745.0,448.5 746.0,446.1 747.0,444.0 748.0,444.6 749.0,445.3 750.0,443.4 751.0,445.5 752.0,443.9 753.0,444.1 754.0,443.6 755.0,443.1 756.0,445.1 757.0,443.6 758.0,444.2 759.0,443.1 760.0,441.9 761.0,443.0 762.0,445.0 763.0,443.3 764.0,442.2 765.0,441.5 766.0,442.2 767.0,441.4 768.0,444.1 769.0,440.7 770.0,441.3 771.0,441.6 772.0,440.4 773.0,440.3 774.0,442.9 775.0,440.2 776.0,440.3 777.0,442.1 778.0,440.0 779.0,440.4 780.0,441.7 781.0,439.4 782.0,441.5" fill="none" stroke="#f25a20" stroke-width="1.2" stroke-linejoin="round"/><polyline points="418.0,584.9 419.0,583.1 420.0,582.7 421.0,581.1 422.0,580.1 423.0,580.8 424.0,580.1 425.0,576.8 426.0,577.5 427.0,576.7 428.0,573.6 429.0,574.2 430.0,572.3 431.0,572.4 432.0,571.0 433.0,571.5 434.0,569.2 434.5,568.1 435.0,569.0 436.0,568.4 437.0,568.5 438.0,570.2 439.0,568.2 440.0,568.6 441.0,569.4 442.0,570.1 443.0,567.7 444.0,568.7 445.0,568.0 446.0,567.5 447.0,567.9 448.0,567.3 449.0,568.7 450.0,567.5 450.8,568.5 451.0,567.2 452.0,567.9 453.0,570.6 454.0,571.0 455.0,571.3 456.0,569.7 457.0,571.7 458.0,572.1 459.0,573.9 460.0,574.3 461.0,575.5 462.0,576.5 463.0,576.8 464.0,577.7 465.0,577.8 466.0,579.3 467.0,579.5 468.0,580.7 469.0,581.2 469.8,582.9 470.0,585.0 471.0,586.5 472.0,589.7 473.0,593.4 474.0,597.9 475.0,601.0 476.0,605.9 477.0,607.6 478.0,611.9 479.0,613.7 480.0,615.4 481.0,614.1 482.0,614.8 483.0,618.4 484.0,617.4 485.0,619.5 486.0,621.2 487.0,621.9 488.0,621.5 489.0,622.3 490.0,625.6 491.0,625.0 492.0,627.7 493.0,626.8 494.0,631.5 495.0,631.5 496.0,631.5 497.0,631.5 498.0,631.5 499.0,631.5 500.0,631.5 501.0,631.5 502.0,631.5 503.0,631.5 504.0,631.5 505.0,631.5 506.0,631.5 507.0,631.5 508.0,631.5 509.0,631.5 510.0,631.5 510.5,631.5 511.0,631.1 512.0,627.7 513.0,625.5 514.0,625.0 515.0,621.8 516.0,621.9 517.0,620.7 518.0,617.4 519.0,617.2 520.0,614.9 521.0,612.4 522.0,610.0 523.0,609.5 524.0,608.0 525.0,603.8 526.0,603.5 526.8,600.2 527.0,600.3 528.0,601.5 529.0,601.1 530.0,600.6 531.0,600.0 532.0,599.9 533.0,599.8 534.0,599.4 535.0,598.2 536.0,599.2 537.0,599.2 538.0,598.1 539.0,599.2 540.0,598.8 541.0,596.6 542.0,597.7 543.0,597.3 544.0,598.6 545.0,597.2 545.9,596.5 546.0,598.1 547.0,595.6 548.0,594.9 549.0,595.7 550.0,593.4 551.0,593.1 552.0,591.8 553.0,592.0 554.0,590.2 555.0,589.4 556.0,590.7 557.0,589.9 558.0,587.4 559.0,585.9 559.5,587.5 560.0,586.5 561.0,585.3 562.0,585.3 563.0,584.3 564.0,583.6 565.0,582.7 566.0,581.2 567.0,581.2 568.0,580.2 569.0,578.2 570.0,579.5 571.0,577.2 572.0,575.9 573.0,576.2 574.0,575.7 575.0,573.2 576.0,574.0 577.0,573.3 578.0,571.8 579.0,570.2 580.0,571.1 581.0,569.6 582.0,569.6 583.0,568.2 584.0,569.3 585.0,568.1 586.0,570.1 587.0,569.6 588.0,568.7 589.0,568.0 590.0,569.3 591.0,569.9 592.0,570.2 593.0,569.0 594.0,570.0 594.8,568.3 595.0,568.3 596.0,570.6 597.0,570.8 598.0,569.8 599.0,570.7 600.0,570.7 601.0,572.5 602.0,573.6 603.0,573.6 604.0,572.6 605.0,574.6 605.6,574.6 606.0,574.9 607.0,576.0 608.0,577.1 609.0,576.8 610.0,580.1 611.0,581.6 612.0,580.1 613.0,581.4 614.0,582.2 615.0,584.9 615.2,583.6 616.0,586.8 617.0,592.6 618.0,594.9 619.0,598.5 620.0,602.8 621.0,607.1 622.0,611.6 623.0,612.6 624.0,614.2 625.0,615.8 626.0,615.6 627.0,617.7 628.0,617.4 629.0,620.8 630.0,619.6 631.0,621.4 632.0,621.9 633.0,623.2 634.0,624.4 635.0,626.6 635.5,628.8 636.0,628.1 637.0,631.5 638.0,631.5 639.0,631.5 640.0,631.5 641.0,631.5 642.0,631.5 643.0,631.5 644.0,631.5 645.0,631.5 646.0,631.5 647.0,631.5 648.0,631.5 649.0,631.5 650.0,631.5 651.0,631.5 652.0,631.5 653.0,631.5 654.0,631.5 654.6,631.5 655.0,631.7 656.0,629.5 657.0,626.6 658.0,625.2 659.0,623.6 660.0,620.3 661.0,619.4 662.0,618.3 663.0,616.7 664.0,613.2 665.0,612.4 666.0,609.7 667.0,609.1 668.0,607.7 669.0,604.9 670.0,602.3 670.9,602.4 671.0,600.7 672.0,600.3 673.0,600.6 674.0,600.6 675.0,602.9 676.0,601.1 677.0,600.5 678.0,602.8 679.0,602.1 680.0,602.2 681.0,601.4 681.7,601.7 682.0,601.3 683.0,599.7 684.0,601.2 685.0,600.3 686.0,599.3 687.0,598.6 688.0,598.0 689.0,594.6 690.0,594.2 691.0,595.6 692.0,593.7 693.0,593.5 694.0,592.7 695.0,591.9 696.0,590.3 697.0,589.7 698.0,589.6 699.0,589.3 700.0,588.2 701.0,588.1 702.0,586.1 703.0,585.0 704.0,585.2 705.0,585.3 706.0,584.3 707.0,583.0 708.0,581.7 709.0,580.4 710.0,580.9 711.0,578.9 712.0,578.7 713.0,578.5 714.0,578.0 715.0,576.9 716.0,575.6 717.0,575.7 718.0,574.2 719.0,574.1 720.0,574.0 721.0,572.5 722.0,571.3 722.5,572.7 723.0,571.7 724.0,571.7 725.0,570.4 726.0,570.3 727.0,571.9 728.0,570.4 729.0,570.7 730.0,572.2 731.0,571.6 732.0,572.6 733.0,570.6 734.0,571.0 735.0,570.4 736.0,570.7 737.0,571.0 738.0,570.8 738.8,571.3 739.0,572.8 740.0,572.3 741.0,574.8 742.0,575.2 743.0,574.3 743.3,576.6 744.0,577.2 745.0,578.3 746.0,577.2 747.0,580.3 748.0,581.8 749.0,580.6 750.0,583.8 751.0,582.8 751.3,583.6 752.0,583.6 753.0,584.0 754.0,585.7 755.0,585.8 756.0,588.6 756.7,587.0 757.0,588.1 758.0,588.9 759.0,592.0 759.3,590.5 760.0,592.8 761.0,599.2 762.0,602.4 763.0,605.7 763.8,608.1 764.0,610.2 765.0,612.5 766.0,614.4 767.0,615.0 768.0,616.4 769.0,619.1 770.0,620.9 771.0,622.5 772.0,624.4 773.0,625.9 774.0,628.6 775.0,627.9 776.0,627.1 777.0,629.2 778.0,628.7 779.0,630.9 780.0,629.9 781.0,630.3 782.0,631.5" fill="none" stroke="#c81878" stroke-width="1.2" stroke-linejoin="round"/><polyline points="418.0,601.6 419.0,602.0 420.0,600.8 421.0,601.5 422.0,601.7 423.0,600.4 424.0,598.5 425.0,598.8 426.0,598.8 427.0,600.6 428.0,599.3 429.0,600.1 430.0,600.4 431.0,600.5 432.0,600.0 433.0,597.4 434.0,597.6 435.0,597.5 436.0,597.4 437.0,599.4 438.0,597.8 439.0,595.5 440.0,593.9 441.0,592.3 442.0,591.0 443.0,592.6 444.0,589.6 445.0,588.1 446.0,587.5 447.0,587.4 448.0,585.2 449.0,585.4 450.0,581.2 450.8,580.5 451.0,581.4 452.0,581.4 453.0,578.4 454.0,578.7 455.0,576.8 456.0,576.0 457.0,576.4 458.0,575.8 459.0,574.3 460.0,574.6 461.0,575.2 462.0,574.4 463.0,572.4 464.0,574.8 465.0,574.5 466.0,572.1 467.0,573.1 468.0,571.9 469.0,571.8 470.0,571.9 471.0,569.4 472.0,571.9 473.0,570.8 474.0,571.2 475.0,569.5 476.0,570.5 477.0,570.0 478.0,568.5 479.0,569.8 480.0,568.8 481.0,567.4 482.0,570.0 483.0,569.9 484.0,569.1 485.0,567.1 486.0,567.4 487.0,568.5 488.0,568.0 489.0,568.4 490.0,567.2 491.0,568.4 491.5,566.1 492.0,565.2 493.0,564.8 493.2,565.5 493.3,631.5 494.0,631.5 495.0,631.5 496.0,631.5 497.0,631.5 498.0,631.5 499.0,631.5 500.0,631.5 501.0,631.5 502.0,631.5 503.0,631.5 504.0,631.5 505.0,631.5 506.0,631.5 507.0,631.5 508.0,631.5 509.0,631.5 510.0,631.5 510.5,631.5 511.0,631.1 512.0,628.7 513.0,631.1 514.0,629.4 515.0,626.2 516.0,626.0 517.0,626.5 518.0,623.8 519.0,624.1 520.0,622.6 521.0,623.6 522.0,623.2 523.0,621.5 524.0,621.7 525.0,619.9 526.0,616.9 527.0,618.1 528.0,618.3 529.0,617.2 530.0,615.8 531.0,612.7 532.0,613.2 533.0,612.5 534.0,612.2 535.0,608.2 536.0,609.2 537.0,608.9 538.0,608.5 539.0,607.5 540.0,606.2 540.4,604.0 541.0,605.3 542.0,604.8 543.0,602.3 544.0,602.2 545.0,598.6 546.0,600.8 547.0,599.2 548.0,598.3 549.0,599.4 550.0,597.3 551.0,599.0 552.0,599.7 553.0,599.0 554.0,600.2 555.0,598.8 556.0,599.3 557.0,596.9 558.0,597.0 559.0,598.1 560.0,599.6 561.0,598.7 562.0,598.6 563.0,598.6 564.0,598.5 565.0,596.1 566.0,598.6 567.0,598.8 568.0,595.6 569.0,596.8 570.0,595.2 571.0,597.1 572.0,595.3 573.0,596.0 574.0,595.4 575.0,595.5 576.0,596.3 577.0,597.5 578.0,597.0 578.5,594.7 579.0,594.1 580.0,593.2 581.0,594.3 582.0,592.3 583.0,590.9 584.0,590.6 585.0,588.5 586.0,588.1 587.0,586.2 588.0,584.6 589.0,584.6 590.0,580.9 591.0,579.3 592.0,580.9 593.0,576.4 594.0,575.0 595.0,574.5 596.0,575.2 597.0,570.8 598.0,572.0 599.0,567.7 600.0,567.3 600.2,569.1 601.0,568.6 602.0,566.8 603.0,566.8 604.0,566.0 605.0,565.2 606.0,567.5 607.0,568.0 608.0,564.7 609.0,567.6 610.0,564.5 611.0,566.9 612.0,564.3 613.0,564.2 614.0,563.7 615.0,564.7 616.0,563.4 617.0,565.5 618.0,563.7 619.0,564.7 620.0,562.6 621.0,562.8 622.0,563.7 623.0,563.4 624.0,564.9 625.0,564.7 626.0,562.6 627.0,562.9 628.0,561.4 629.0,562.1 630.0,563.6 631.0,562.7 632.0,561.1 633.0,561.8 634.0,563.4 635.0,560.4 636.0,560.3 637.0,562.7 637.5,631.5 638.0,631.5 639.0,631.5 640.0,631.5 641.0,631.5 642.0,631.5 643.0,631.5 644.0,631.5 645.0,631.5 646.0,631.5 647.0,631.5 648.0,631.5 649.0,631.5 650.0,631.5 651.0,631.5 652.0,631.5 653.0,631.5 654.0,631.5 654.6,631.5 655.0,631.2 656.0,630.4 657.0,630.3 658.0,628.2 659.0,629.2 660.0,628.8 661.0,627.2 662.0,624.9 663.0,627.2 664.0,626.5 665.0,624.0 666.0,622.4 667.0,623.0 668.0,622.6 669.0,620.5 670.0,620.1 670.9,622.0 671.0,619.0 672.0,620.7 673.0,619.6 674.0,617.0 675.0,617.7 676.0,615.7 677.0,617.1 678.0,614.0 679.0,615.6 680.0,615.0 681.0,613.1 682.0,612.9 683.0,611.5 684.0,609.5 685.0,609.4 686.0,611.1 687.0,609.3 688.0,607.8 689.0,607.3 690.0,605.7 691.0,605.8 692.0,606.5 693.0,605.2 694.0,602.3 695.0,603.3 695.3,601.7 696.0,600.8 697.0,601.9 698.0,601.5 699.0,601.6 700.0,602.4 701.0,600.2 702.0,601.5 703.0,599.8 704.0,601.7 705.0,599.6 706.0,599.7 707.0,600.1 708.0,600.5 709.0,601.4 710.0,599.0 711.0,600.3 712.0,599.1 713.0,600.7 714.0,600.7 715.0,600.3 716.0,597.8 717.0,599.8 718.0,597.2 719.0,598.8 720.0,597.9 721.0,598.5 722.0,597.4 723.0,599.1 724.0,597.8 725.0,595.8 726.0,598.2 727.0,596.4 728.0,597.4 729.0,596.1 730.0,595.8 731.0,594.4 732.0,589.9 733.0,589.0 734.0,587.7 735.0,586.4 736.0,584.5 737.0,586.0 738.0,583.2 739.0,582.2 740.0,580.5 741.0,578.0 742.0,577.2 743.0,575.2 744.0,576.8 745.0,573.6 746.0,572.2 747.0,570.6 748.0,570.9 749.0,570.1 750.0,571.7 751.0,569.4 752.0,571.1 753.0,570.3 754.0,569.1 755.0,569.6 756.0,570.8 757.0,571.0 758.0,570.5 759.0,569.3 760.0,567.8 761.0,568.0 762.0,569.6 763.0,569.5 764.0,567.9 765.0,569.6 766.0,569.0 767.0,570.2 768.0,569.5 769.0,568.1 770.0,567.4 771.0,567.5 772.0,568.3 773.0,566.1 774.0,567.1 775.0,568.5 776.0,568.7 777.0,565.4 778.0,565.2 779.0,565.3 780.0,566.2 781.0,567.1 782.0,567.7" fill="none" stroke="#1879a9" stroke-width="1.2" stroke-linejoin="round"/><polyline points="418.0,599.8 419.0,599.5 420.0,599.3 421.0,599.0 422.0,599.1 423.0,598.7 424.0,599.6 425.0,599.0 426.0,598.3 427.0,598.5 428.0,598.0 429.0,598.8 430.0,595.8 431.0,593.5 432.0,590.6 433.0,588.0 434.0,586.0 435.0,583.2 436.0,580.5 437.0,577.3 438.0,574.9 439.0,572.9 440.0,569.7 441.0,567.8 442.0,564.7 443.0,562.7 443.4,561.8 444.0,562.2 445.0,565.1 446.0,567.3 447.0,568.7 448.0,571.0 449.0,573.9 450.0,575.4 451.0,578.0 452.0,580.1 453.0,582.8 454.0,584.2 455.0,586.7 456.0,588.6 457.0,590.9 458.0,593.8 459.0,596.0 460.0,598.4 461.0,600.7 462.0,603.0 463.0,605.0 464.0,606.9 465.0,609.8 466.0,611.3 467.0,613.9 468.0,616.2 469.0,617.9 470.0,620.5 471.0,621.8 472.0,622.8 473.0,623.7 474.0,625.6 475.0,625.7 476.0,628.0 477.0,628.3 478.0,629.4 479.0,631.5 479.5,631.5 480.0,631.5 481.0,631.5 482.0,631.5 483.0,631.5 484.0,631.5 485.0,631.5 486.0,631.5 487.0,631.5 488.0,631.5 489.0,631.5 490.0,631.5 491.0,631.5 492.0,631.5 493.0,631.5 494.0,631.5 495.0,631.5 496.0,631.5 497.0,631.5 498.0,631.5 499.0,631.5 500.0,631.5 501.0,631.5 502.0,631.5 503.0,631.5 504.0,631.5 505.0,631.5 506.0,631.5 507.0,631.5 508.0,631.5 509.0,631.5 510.0,631.5 511.0,631.5 512.0,629.4 513.0,628.0 514.0,626.0 515.0,624.8 516.0,622.9 517.0,620.9 518.0,618.3 519.0,617.3 520.0,614.9 521.0,612.8 522.0,611.0 523.0,609.8 524.0,608.0 525.0,606.0 526.0,603.9 527.0,602.8 528.0,600.3 528.8,598.8 529.0,598.7 530.0,599.6 531.0,598.5 532.0,599.4 533.0,599.0 534.0,598.6 535.0,598.2 536.0,598.8 537.0,598.1 538.0,598.4 539.0,598.6 540.0,598.5 541.0,598.7 542.0,598.9 543.0,598.8 544.0,598.3 545.0,598.0 546.0,598.9 547.0,599.1 548.0,598.1 549.0,598.6 550.0,598.8 551.0,599.0 552.0,598.6 553.0,598.4 554.0,598.8 555.0,598.9 556.0,599.4 557.0,598.4 558.0,599.4 559.0,599.0 560.0,598.6 561.0,599.4 562.0,598.8 563.0,598.6 564.0,599.0 565.0,598.8 566.0,599.6 567.0,599.3 568.0,599.6 569.0,598.9 570.0,599.6 571.0,599.4 572.0,598.8 573.0,599.0 574.0,598.9 575.0,599.5 576.0,599.5 577.0,599.3 578.0,599.6 578.5,599.8 579.0,598.4 580.0,596.0 581.0,593.0 582.0,589.7 583.0,587.0 584.0,584.7 585.0,582.1 586.0,579.6 587.0,577.2 588.0,574.3 589.0,571.1 590.0,568.3 591.0,566.2 592.0,563.0 593.0,560.3 594.0,557.7 595.0,555.1 595.6,553.4 596.0,554.5 597.0,555.9 598.0,558.2 599.0,559.7 600.0,561.2 601.0,563.1 602.0,565.3 603.0,566.4 604.0,568.5 605.0,570.3 605.6,572.0 606.0,572.5 607.0,575.6 608.0,577.8 609.0,580.7 610.0,583.1 611.0,585.9 612.0,588.5 613.0,591.7 614.0,594.1 615.0,596.7 616.0,599.3 617.0,602.5 618.0,604.7 619.0,607.3 619.2,608.1 620.0,608.7 621.0,609.9 622.0,611.5 623.0,612.6 624.0,614.2 625.0,614.6 626.0,615.7 627.0,617.3 627.4,617.6 628.0,618.0 629.0,618.7 630.0,620.1 631.0,620.2 632.0,621.2 633.0,621.9 634.0,623.0 635.0,623.5 636.0,624.1 637.0,625.0 638.0,631.5 639.0,631.5 640.0,631.5 641.0,631.5 642.0,631.5 643.0,631.5 644.0,631.5 645.0,631.5 646.0,631.5 647.0,631.5 648.0,631.5 649.0,631.5 650.0,631.5 651.0,631.5 652.0,631.5 653.0,631.5 654.0,631.5 654.6,631.5 655.0,630.6 656.0,629.6 657.0,627.7 658.0,625.6 659.0,623.7 660.0,622.4 661.0,620.1 662.0,618.4 663.0,617.3 664.0,615.1 665.0,613.7 666.0,612.1 667.0,610.3 668.0,608.3 669.0,606.7 670.0,605.0 671.0,603.4 672.0,601.2 673.0,599.5 673.6,598.2 674.0,598.2 675.0,598.6 676.0,597.8 677.0,598.7 678.0,598.2 679.0,598.3 680.0,598.1 681.0,598.4 682.0,597.6 683.0,598.0 684.0,598.4 685.0,597.7 686.0,598.2 687.0,597.6 688.0,597.8 689.0,597.5 690.0,597.0 691.0,597.2 692.0,597.7 693.0,597.2 694.0,597.4 695.0,597.7 696.0,598.0 697.0,597.5 698.0,597.5 699.0,597.1 700.0,597.1 701.0,597.5 702.0,597.8 703.0,597.2 704.0,598.2 705.0,598.1 706.0,597.6 707.0,597.6 708.0,598.1 709.0,597.6 710.0,597.3 711.0,597.9 712.0,597.8 713.0,598.0 714.0,598.0 715.0,597.2 716.0,597.9 717.0,597.3 718.0,597.3 719.0,597.7 720.0,598.1 721.0,597.3 722.0,597.8 723.0,597.9 724.0,598.0 725.0,597.3 726.0,597.9 727.0,598.1 728.0,597.9 729.0,595.7 730.0,592.5 731.0,590.0 732.0,587.6 733.0,584.4 734.0,581.7 735.0,580.0 736.0,576.8 737.0,574.4 738.0,571.0 739.0,568.6 740.0,566.5 741.0,563.9 742.0,561.4 743.0,557.8 743.7,556.7 744.0,556.9 745.0,558.9 746.0,560.5 747.0,562.3 748.0,563.9 749.0,566.4 750.0,567.5 751.0,569.8 752.0,571.3 753.0,573.3 754.0,575.2 755.0,576.7 756.0,578.6 757.0,580.5 757.8,581.5 758.0,582.2 759.0,585.6 760.0,588.1 761.0,590.6 762.0,592.8 763.0,595.6 764.0,598.7 765.0,602.0 766.0,603.9 767.0,607.0 768.0,609.6 769.0,612.2 770.0,615.0 771.0,617.9 772.0,620.2 772.8,622.9 773.0,623.1 774.0,623.4 775.0,624.9 776.0,625.5 777.0,625.7 778.0,627.3 779.0,627.2 780.0,628.2 781.0,629.2 782.0,630.2" fill="none" stroke="#409020" stroke-width="1.2" stroke-linejoin="round"/></g></svg>
<div class="abs" style="left:418.00px;top:634.60px;width:362.00px;height:1.80px;background:#666;"></div>
<div class="abs" style="left:418.00px;top:636.00px;width:1.20px;height:4.00px;background:#666;"></div>
<div class="abs" style="left:453.40px;top:636.00px;width:1.20px;height:4.00px;background:#666;"></div>
<div class="abs" style="left:560.20px;top:636.00px;width:1.20px;height:4.00px;background:#666;"></div>
<div class="abs" style="left:667.00px;top:636.00px;width:1.20px;height:4.00px;background:#666;"></div>
<div class="abs" style="left:773.40px;top:636.00px;width:1.20px;height:4.00px;background:#666;"></div>
<div class="abs" style="left:424.00px;top:639.50px;width:60.00px;height:14.00px;font-size:11px;line-height:14px;text-align:center;color:#333;letter-spacing:-0.2px">09 AM</div>
<div class="abs" style="left:530.80px;top:639.50px;width:60.00px;height:14.00px;font-size:11px;line-height:14px;text-align:center;color:#333;letter-spacing:-0.2px">10 AM</div>
<div class="abs" style="left:637.60px;top:639.50px;width:60.00px;height:14.00px;font-size:11px;line-height:14px;text-align:center;color:#333;letter-spacing:-0.2px">11 AM</div>
<div class="abs" style="left:744.00px;top:639.50px;width:60.00px;height:14.00px;font-size:11px;line-height:14px;text-align:center;color:#333;letter-spacing:-0.2px">12 PM</div>
<div class="abs" style="left:418.50px;top:660.20px;width:31.00px;height:32.00px;border:1px solid #d0d0d0;border-radius:3px;background:#f7f7f7"></div>
<div class="abs" style="left:432.30px;top:673.30px;width:0.00px;height:0.00px;border-top:3px solid transparent;border-bottom:3px solid transparent;border-right:3.5px solid #333"></div>
<div class="abs" style="left:454.60px;top:660.20px;width:125.00px;height:32.00px;border:1px solid #d0d0d0;border-radius:3px;background:#f7f7f7"></div>
<div class="abs" style="left:467.00px;top:668.58px;font-size:14.5px;line-height:17px;color:#333;font-weight:normal;letter-spacing:0.45px;white-space:nowrap;">4/29/2024</div>
<svg class="abs" style="left:556.50px;top:667.50px;" width="15" height="16" viewBox="0 0 15 16"><rect x="1" y="2.5" width="13" height="12.5" fill="none" stroke="#9a9a9a" stroke-width="1.1"/><path d="M1 5.5 H14" stroke="#9a9a9a" stroke-width="1.1"/><path d="M4 1 V3.5 M11 1 V3.5" stroke="#9a9a9a" stroke-width="1.3"/><rect x="9.3" y="10" width="3" height="3" fill="#9a9a9a"/></svg>
<div class="abs" style="left:584.50px;top:660.20px;width:139.00px;height:32.00px;border:1px solid #d0d0d0;border-radius:3px;background:#f7f7f7"></div>
<div class="abs" style="left:597.10px;top:668.58px;font-size:14.5px;line-height:17px;color:#333;font-weight:normal;letter-spacing:-0.1px;white-space:nowrap;">08:39:42 AM</div>
<svg class="abs" style="left:700.50px;top:668.50px;" width="15" height="15" viewBox="0 0 15 15"><circle cx="7.5" cy="7.5" r="6.6" fill="none" stroke="#9a9a9a" stroke-width="1.1"/><path d="M7.3 3.5 V7.8 H11" fill="none" stroke="#9a9a9a" stroke-width="1.1"/></svg>
<div class="abs" style="left:757.80px;top:660.20px;width:40.00px;height:32.00px;border:1px solid #d0d0d0;border-radius:3px;background:#f7f7f7"></div>
<svg class="abs" style="left:764.50px;top:667.00px;" width="17" height="17" viewBox="0 0 17 17"><path d="M1 0 V16 H17" fill="none" stroke="#444" stroke-width="1.1"/><path d="M1.5 11 Q5 6 8 6.5 Q11 7 12 4 Q14 1.5 17 1.5" fill="none" stroke="#444" stroke-width="1"/><path d="M1.5 15 L5 12.5 H8 L10 10.5 H13 L15 9 H17" fill="none" stroke="#444" stroke-width="1"/></svg>
<div class="abs" style="left:418.00px;top:699.50px;width:362.00px;height:31.00px;background:transparent;border:1px solid #e2e2e2"></div>
<svg class="abs" style="left:0;top:0" width="780" height="800"><defs><clipPath id="co"><rect x="418.5" y="700.5" width="362" height="29"/></clipPath></defs><g clip-path="url(#co)" opacity="0.85"><polyline points="418.7,728.3 420.1,703.2 422.1,727.6 424.0,702.9 425.7,727.1 427.2,702.7 429.2,727.9 431.2,702.7 433.3,728.4 435.4,706.5 437.2,728.0 439.1,704.2 440.6,727.3 442.3,704.0 444.1,728.5 446.0,714.3 447.9,728.0 449.9,702.8 451.5,727.7 453.5,702.6 455.6,727.7 457.2,703.5 459.1,727.7 460.7,702.6 462.4,727.5 463.8,703.0 465.5,727.1 467.3,707.0 469.4,728.2 471.3,705.6 473.0,728.0 474.6,702.6 476.5,716.5 478.3,703.3 480.3,727.5 481.9,703.7 483.8,727.1 485.9,703.2 487.9,727.1 489.7,704.3 491.3,728.1 493.3,702.8 495.4,728.1 497.1,710.5 499.0,716.8 501.0,704.0 503.1,727.6 504.8,704.3 506.6,727.4 508.7,704.7 510.8,727.3 512.5,703.4 514.2,719.3 516.0,702.8 517.8,727.9 519.4,703.3 521.4,728.4 523.0,704.4 525.0,722.2 526.4,703.6 528.0,728.0 529.6,704.9 531.0,728.1 532.6,703.1 534.7,727.5 536.3,704.0 538.3,727.8 540.4,703.1 542.2,727.9 544.1,704.9 546.0,728.0 547.9,703.7 549.6,728.3 551.2,703.1 552.7,728.1 554.8,703.5 556.9,722.6 558.4,704.6 560.3,727.9 562.2,703.5 563.9,727.9 565.9,703.0 567.6,720.8 569.0,704.7 571.1,727.4 572.7,704.7 574.8,727.2 576.2,702.5 577.8,727.4 579.4,703.0 581.1,720.0 582.6,703.8 584.4,727.5 586.4,704.1 588.2,727.9 589.9,704.3 591.6,721.1 593.6,704.9 595.5,727.9 597.4,704.6 599.0,728.3 600.5,702.5 602.1,727.5 604.0,714.1 605.9,725.2 607.5,709.8 609.1,727.9 611.0,703.1 612.5,727.1 614.6,704.8 616.3,727.1 618.2,702.5 619.8,727.4 621.8,703.3 623.5,716.6 625.3,704.1 627.2,728.2 628.9,702.8 630.7,718.8 632.3,702.8 634.3,728.2 636.1,703.9 637.8,728.0 640.0,703.8 641.8,727.9 643.4,703.4 645.0,722.8 646.7,703.5 648.5,728.4 650.5,703.1 652.5,719.4 654.0,703.2 656.1,728.2 658.0,704.0 659.8,721.4 661.9,703.7 663.6,727.4 665.2,704.3 667.0,727.6 669.0,703.3 670.4,718.4 672.1,713.6 673.7,727.9 675.4,703.5 676.8,728.3 678.5,702.8 680.5,727.8 682.4,706.8 684.0,717.3 686.1,703.4 687.7,718.6 689.5,703.2 691.4,724.5 693.2,704.6 695.3,727.8 696.7,703.4 698.5,727.1 700.3,704.6 702.4,727.7 704.4,704.8 705.9,727.7 707.8,707.5 709.5,727.4 711.3,704.2 713.4,728.0 715.0,702.8 716.5,724.2 718.4,704.9 720.2,727.3 722.3,707.5 724.0,728.1 725.8,704.4 727.9,728.1 729.9,702.9 731.3,728.0 732.8,703.5 734.5,727.7 736.3,713.6 738.0,722.7 740.1,703.3 742.2,727.4 743.8,704.9 745.3,727.9 747.3,705.0 749.3,727.1 751.0,704.9 753.0,727.8 754.6,702.7 756.1,727.2 758.2,704.2 760.0,727.4 762.2,704.2 764.0,727.8 765.8,703.0 767.5,727.6 769.2,711.7 771.0,727.9 772.6,713.7 774.5,728.3 776.3,703.3 778.2,728.2 780.2,704.7 781.7,727.1 783.6,703.9" fill="none" stroke="#c81878" stroke-width="0.9" stroke-linejoin="round"/><polyline points="418.4,727.2 420.2,702.9 422.1,728.3 424.2,703.2 426.2,727.6 427.9,702.9 430.3,727.3 432.7,704.9 435.1,727.2 437.2,703.9 439.2,727.9 441.1,704.5 443.5,719.3 445.6,702.8 447.9,728.2 449.7,703.1 451.8,727.9 453.6,703.1 455.5,728.0 457.2,704.9 459.2,727.1 460.9,704.5 463.3,728.3 465.3,713.5 467.7,727.2 469.7,702.8 472.2,727.4 474.0,704.0 476.2,727.4 478.2,702.9 480.4,728.2 482.2,703.9 484.3,727.8 486.3,702.5 488.8,728.0 490.7,702.7 492.8,727.2 494.5,703.7 497.0,727.8 499.2,702.6 501.3,718.9 503.2,704.6 505.1,728.0 507.0,703.0 509.0,727.9 510.7,704.0 512.4,728.2 514.5,703.3 516.4,728.3 518.8,704.6 520.7,727.9 522.4,703.4 524.4,716.6 526.1,702.8 528.5,727.2 530.6,702.5 532.5,724.2 534.6,703.4 537.0,727.4 539.2,710.2 541.7,727.6 543.9,704.7 545.6,727.7 548.0,703.2 550.5,728.4 552.2,704.3 554.0,727.2 556.5,703.6 558.7,727.4 560.6,702.8 562.6,721.3 564.5,703.6 566.2,728.1 568.1,707.7 570.5,721.8 573.0,703.7 574.9,727.1 577.1,703.4 579.1,727.6 580.8,702.9 582.6,728.0 585.0,703.8 587.4,727.4 589.6,704.9 591.3,724.2 593.7,702.6 595.8,723.2 597.9,703.1 600.0,727.8 602.4,703.1 604.1,727.9 606.5,702.8 609.0,718.1 611.3,704.3 613.6,728.1 615.4,704.0 617.1,727.6 619.2,704.7 621.2,727.8 623.4,704.8 625.4,722.5 627.7,711.7 629.7,727.8 631.7,704.5 634.2,727.9 636.4,702.7 638.2,728.0 640.2,707.4 642.6,728.2 645.1,702.8 646.9,727.9 648.8,702.5 651.0,728.2 653.2,711.4 655.5,727.3 657.9,702.6 660.1,727.7 662.4,704.3 664.4,728.1 666.4,703.9 668.8,727.4 670.6,702.9 673.0,723.2 675.3,703.3 677.1,728.3 679.4,703.6 681.6,728.0 683.6,704.7 685.4,727.3 687.7,703.6 689.5,727.7 691.4,704.8 693.1,727.4 695.4,704.4 697.6,727.1 699.9,704.4 702.0,727.3 704.2,702.6 706.6,727.9 708.5,703.5 710.9,727.7 713.2,703.8 715.5,727.4 717.9,703.9 719.8,727.8 721.9,705.9 723.9,727.8 726.2,704.4 728.3,728.4 730.3,704.3 732.5,728.4 734.7,704.3 736.9,727.2 738.7,706.3 741.2,727.8 743.7,703.8 745.4,727.5 747.3,703.6 749.7,721.3 751.5,703.0 753.8,727.1 755.6,704.3 757.3,728.1 759.5,711.5 761.6,728.1 763.7,704.3 765.4,728.2 767.6,702.6 769.8,727.2 772.0,706.8 774.2,728.2 776.0,703.8 778.4,727.6 780.1,703.8 781.9,728.1 783.9,704.4" fill="none" stroke="#1879a9" stroke-width="0.8" stroke-linejoin="round"/><polyline points="418.6,721.3 420.1,703.0 421.5,727.3 422.8,702.7 424.4,728.4 426.1,711.4 427.6,728.5 429.1,703.0 430.4,727.8 431.8,703.8 433.3,727.5 434.8,705.0 436.5,727.4 437.9,703.2 439.1,727.9 440.7,704.9 442.4,728.2 444.0,705.0 445.4,727.6 447.0,702.7 448.4,718.7 449.6,702.8 450.8,728.2 452.3,703.0 453.9,727.5 455.1,703.0 456.4,718.3 457.8,707.4 459.2,719.7 460.4,707.4 461.7,728.0 463.0,702.7 464.5,727.6 465.9,704.9 467.3,727.2 468.6,704.8 470.2,728.2 471.8,707.3 473.5,720.1 474.9,702.6 476.7,727.4 478.0,704.0 479.3,727.4 480.5,703.9 482.2,728.1 483.8,702.5 485.2,728.4 486.4,703.9 487.7,727.2 489.4,704.2 490.9,728.4 492.1,711.8 493.8,727.5 495.2,703.3 497.0,727.7 498.5,712.1 500.1,727.1 501.5,704.8 503.1,727.3 504.8,704.1 506.2,727.6 507.4,705.0 509.1,727.9 510.6,703.6 512.3,727.4 513.5,703.7 514.8,727.8 516.3,707.8 517.4,727.5 518.7,704.8 520.3,727.2 521.6,703.0 523.0,727.1 524.7,704.0 526.0,727.8 527.7,704.3 529.4,728.2 530.8,703.0 532.2,727.8 533.6,705.0 535.0,728.5 536.6,704.3 538.1,727.3 539.3,703.6 540.5,728.1 541.7,704.1 543.1,727.5 544.8,711.7 546.1,728.2 547.2,704.3 548.5,728.0 550.0,704.0 551.6,727.3 553.3,704.8 554.9,727.8 556.4,708.9 557.9,718.3 559.6,704.1 560.9,727.3 562.4,703.0 564.1,716.7 565.6,703.3 567.3,722.4 568.5,703.9 570.1,728.5 571.7,704.5 573.0,727.3 574.2,703.8 575.8,727.5 577.5,704.9 578.7,727.7 580.1,704.1 581.5,727.7 582.9,704.6 584.5,727.2 586.3,703.9 587.5,727.7 589.0,704.9 590.5,727.3 592.0,704.2 593.2,727.9 594.9,707.9 596.3,727.8 598.0,709.8 599.3,727.6 601.0,704.4 602.2,728.2 603.7,703.4 605.3,727.4 606.5,703.1 607.8,727.8 609.1,703.8 610.4,727.6 611.9,704.6 613.4,723.4 615.0,704.8 616.4,727.1 617.7,713.5 618.9,727.4 620.2,704.6 621.6,728.3 623.0,702.5 624.3,727.1 626.0,703.8 627.6,727.5 628.9,702.8 630.1,727.7 631.6,703.0 632.8,727.0 634.5,702.7 636.2,727.4 637.6,703.8 639.0,728.5 640.6,703.0 642.0,727.9 643.3,703.8 644.4,718.3 646.0,711.2 647.4,727.7 649.1,703.1 650.8,727.3 652.4,704.7 654.1,727.3 655.7,704.3 656.9,727.8 658.1,704.1 659.6,727.1 661.2,704.1 662.6,727.9 664.4,704.3 666.0,725.3 667.5,703.1 668.9,728.2 670.3,703.1 672.0,727.7 673.7,705.0 675.2,728.4 676.7,702.6 678.4,727.8 679.7,704.0 680.9,721.7 682.3,703.4 683.7,727.7 685.0,703.2 686.2,728.4 687.4,703.5 689.1,728.4 690.8,706.2 692.5,727.8 694.2,703.8 695.9,727.8 697.7,704.0 698.9,727.8 700.2,703.8 701.4,727.5 702.8,704.0 704.2,727.7 706.0,712.1 707.3,727.2 708.9,703.4 710.2,727.7 711.7,704.4 713.0,727.0 714.7,705.9 715.9,727.9 717.4,703.9 718.6,727.5 720.1,703.4 721.5,728.0 723.1,702.7 724.3,727.6 725.9,703.6 727.2,727.9 728.8,708.4 730.2,727.1 731.7,702.7 733.3,728.4 734.8,704.2 736.1,728.4 737.4,702.7 738.8,727.5 740.1,703.4 741.7,728.3 743.2,704.8 744.9,721.6 746.6,703.3 748.0,717.4 749.3,703.4 750.6,727.9 751.9,704.5 753.4,727.7 754.6,704.7 756.0,727.7 757.4,704.9 759.0,728.4 760.5,702.7 761.7,727.2 762.9,702.9 764.5,728.1 765.8,703.8 767.4,728.0 769.1,703.7 770.6,727.4 772.2,704.6 773.8,718.2 775.4,714.1 777.0,727.4 778.6,703.6 779.8,727.0 781.2,703.0 782.6,727.0 783.8,702.8" fill="none" stroke="#409020" stroke-width="1.05" stroke-linejoin="round"/></g></svg>
<div class="abs" style="left:418.00px;top:743.00px;width:362.00px;height:1.80px;background:#666;"></div>
<div class="abs" style="left:418.00px;top:744.00px;width:1.20px;height:4.00px;background:#666;"></div>
<div class="abs" style="left:427.90px;top:744.00px;width:1.20px;height:4.00px;background:#666;"></div>
<div class="abs" style="left:567.80px;top:744.00px;width:1.20px;height:4.00px;background:#666;"></div>
<div class="abs" style="left:712.40px;top:744.00px;width:1.20px;height:4.00px;background:#666;"></div>
<div class="abs" style="left:418.50px;top:747.50px;width:40.00px;height:14.00px;font-size:11px;line-height:14px;text-align:left;color:#333;letter-spacing:-0.1px">Nov</div>
<div class="abs" style="left:548.40px;top:747.50px;width:40.00px;height:14.00px;font-size:11px;line-height:14px;text-align:center;color:#333;letter-spacing:-0.1px">Dec</div>
<div class="abs" style="left:693.00px;top:747.50px;width:40.00px;height:14.00px;font-size:11px;line-height:14px;text-align:center;color:#333;letter-spacing:-0.1px">2024</div>
<div class="abs" style="left:418.50px;top:768.50px;width:244.00px;height:23.00px;border:1px solid #cfcfcf;border-radius:3px;background:#f4f4f4"></div>
<div class="abs" style="left:418.50px;top:773.00px;width:33.00px;height:16.00px;font-size:13px;line-height:16px;text-align:center;letter-spacing:-0.1px;color:#333">1D</div>
<div class="abs" style="left:451.00px;top:769.00px;width:1.00px;height:22.00px;background:#cfcfcf;"></div>
<div class="abs" style="left:451.50px;top:773.00px;width:36.10px;height:16.00px;font-size:13px;line-height:16px;text-align:center;letter-spacing:-0.1px;color:#333">1W</div>
<div class="abs" style="left:487.00px;top:769.00px;width:1.00px;height:22.00px;background:#cfcfcf;"></div>
<div class="abs" style="left:487.60px;top:773.00px;width:35.90px;height:16.00px;font-size:13px;line-height:16px;text-align:center;letter-spacing:-0.1px;color:#333">1M</div>
<div class="abs" style="left:523.00px;top:769.00px;width:1.00px;height:22.00px;background:#cfcfcf;"></div>
<div class="abs" style="left:523.50px;top:773.00px;width:34.90px;height:16.00px;font-size:13px;line-height:16px;text-align:center;letter-spacing:-0.1px;color:#333">3M</div>
<div class="abs" style="left:558.90px;top:769.50px;width:34.80px;height:21.00px;background:#e2e9f1;"></div>
<div class="abs" style="left:558.00px;top:769.00px;width:1.00px;height:22.00px;background:#cfcfcf;"></div>
<div class="abs" style="left:558.40px;top:773.00px;width:35.30px;height:16.00px;font-size:13px;line-height:16px;text-align:center;letter-spacing:-0.1px;color:#1e5ea7">6M</div>
<div class="abs" style="left:593.00px;top:769.00px;width:1.00px;height:22.00px;background:#cfcfcf;"></div>
<div class="abs" style="left:593.70px;top:773.00px;width:30.90px;height:16.00px;font-size:13px;line-height:16px;text-align:center;letter-spacing:-0.1px;color:#333">1Y</div>
<div class="abs" style="left:624.00px;top:769.00px;width:1.00px;height:22.00px;background:#cfcfcf;"></div>
<div class="abs" style="left:624.60px;top:773.00px;width:37.90px;height:16.00px;font-size:13px;line-height:16px;text-align:center;letter-spacing:-0.1px;color:#333">ALL</div>
<div class="abs" style="left:679.60px;top:768.60px;width:120.00px;height:23.00px;border:1px solid #cfcfcf;border-radius:3px;background:#f4f4f4"></div>
<div class="abs" style="left:759.00px;top:769.00px;width:1.00px;height:22.00px;background:#cfcfcf;"></div>
<div class="abs" style="left:688.00px;top:772.50px;font-size:13px;line-height:16px;color:#333;font-weight:normal;letter-spacing:-0.8px;white-space:nowrap;">CUSTOM</div>
<div class="abs" style="left:745.00px;top:777.80px;width:0.00px;height:0.00px;border-left:4px solid transparent;border-right:4px solid transparent;border-bottom:4px solid #a0a0a0"></div>
<svg class="abs" style="left:765.00px;top:776.50px;" width="11.5" height="9.5" viewBox="0 0 11.5 9.5"><rect x="0.6" y="0.6" width="10.3" height="8.3" rx="1" fill="none" stroke="#555" stroke-width="1.1"/><path d="M2.5 2.5 H4 M7.5 2.5 H9 M2.5 7 H4 M7.5 7 H9" stroke="#555" stroke-width="1"/></svg>
</div>
<div id="ov"></div>
<div id="dpanel"></div>
<div id="drawer">
<svg class="abs" style="left:1254.60px;top:14.60px;" width="11" height="11" viewBox="0 0 11 11"><path d="M1 1 L10 10 M10 1 L1 10" stroke="#bcbcbc" stroke-width="2"/></svg>
<div class="abs" style="left:819.30px;top:32.01px;font-size:24.5px;line-height:29px;color:#232323;font-weight:normal;letter-spacing:-0.28px;white-space:nowrap;-webkit-text-stroke:0.45px #232323">Edit statistics summary table</div>
<div class="abs" style="left:819.20px;top:114.80px;font-size:12.4px;line-height:15px;color:#9b9b9b;font-weight:normal;letter-spacing:-0.77px;white-space:nowrap;">KEY PARAMETERS</div>
<div class="abs" style="left:820.00px;top:145.00px;width:420.00px;height:1.00px;background:#dcdcdc;"></div>
<div class="abs" style="left:820.00px;top:158.00px;width:16.00px;height:16.00px;background:#075fbe;border-radius:2.5px"></div>
<svg class="abs" style="left:820.00px;top:158.00px;" width="16" height="16" viewBox="0 0 16 16"><path d="M4.6 8.1 L7.2 10.5 L11.8 5.5" fill="none" stroke="#fff" stroke-width="2" stroke-linecap="round" stroke-linejoin="round"/></svg>
<div class="abs" style="left:843.00px;top:158.78px;font-size:14.2px;line-height:17px;color:#2d2d2d;font-weight:normal;letter-spacing:-0.3px;white-space:nowrap;">Average (AVG)</div>
<div class="abs" style="left:820.00px;top:182.00px;width:16.00px;height:16.00px;background:#075fbe;border-radius:2.5px"></div>
<svg class="abs" style="left:820.00px;top:182.00px;" width="16" height="16" viewBox="0 0 16 16"><path d="M4.6 8.1 L7.2 10.5 L11.8 5.5" fill="none" stroke="#fff" stroke-width="2" stroke-linecap="round" stroke-linejoin="round"/></svg>
<div class="abs" style="left:843.00px;top:182.78px;font-size:14.2px;line-height:17px;color:#2d2d2d;font-weight:normal;letter-spacing:-0.3px;white-space:nowrap;">Standard Deviation (STDEV)</div>
<div class="abs" style="left:820.00px;top:206.00px;width:16.00px;height:16.00px;background:#075fbe;border-radius:2.5px"></div>
<svg class="abs" style="left:820.00px;top:206.00px;" width="16" height="16" viewBox="0 0 16 16"><path d="M4.6 8.1 L7.2 10.5 L11.8 5.5" fill="none" stroke="#fff" stroke-width="2" stroke-linecap="round" stroke-linejoin="round"/></svg>
<div class="abs" style="left:843.00px;top:206.78px;font-size:14.2px;line-height:17px;color:#2d2d2d;font-weight:normal;letter-spacing:-0.3px;white-space:nowrap;">Minimum (MIN)</div>
<div class="abs" style="left:820.00px;top:230.00px;width:16.00px;height:16.00px;background:#075fbe;border-radius:2.5px"></div>
<svg class="abs" style="left:820.00px;top:230.00px;" width="16" height="16" viewBox="0 0 16 16"><path d="M4.6 8.1 L7.2 10.5 L11.8 5.5" fill="none" stroke="#fff" stroke-width="2" stroke-linecap="round" stroke-linejoin="round"/></svg>
<div class="abs" style="left:843.00px;top:230.78px;font-size:14.2px;line-height:17px;color:#2d2d2d;font-weight:normal;letter-spacing:-0.3px;white-space:nowrap;">Maximum (MAX)</div>
<div class="abs" style="left:820.00px;top:254.00px;width:16.00px;height:16.00px;background:#075fbe;border-radius:2.5px"></div>
<svg class="abs" style="left:820.00px;top:254.00px;" width="16" height="16" viewBox="0 0 16 16"><path d="M4.6 8.1 L7.2 10.5 L11.8 5.5" fill="none" stroke="#fff" stroke-width="2" stroke-linecap="round" stroke-linejoin="round"/></svg>
<div class="abs" style="left:843.00px;top:254.78px;font-size:14.2px;line-height:17px;color:#2d2d2d;font-weight:normal;letter-spacing:-0.3px;white-space:nowrap;">Range</div>
<div class="abs" style="left:820.00px;top:278.00px;width:16.00px;height:16.00px;background:#075fbe;border-radius:2.5px"></div>
<svg class="abs" style="left:820.00px;top:278.00px;" width="16" height="16" viewBox="0 0 16 16"><path d="M4.6 8.1 L7.2 10.5 L11.8 5.5" fill="none" stroke="#fff" stroke-width="2" stroke-linecap="round" stroke-linejoin="round"/></svg>
<div class="abs" style="left:843.00px;top:278.78px;font-size:14.2px;line-height:17px;color:#2d2d2d;font-weight:normal;letter-spacing:-0.3px;white-space:nowrap;">Integral (/d)</div>
<div class="abs" style="left:820.00px;top:302.00px;width:16.00px;height:16.00px;background:#075fbe;border-radius:2.5px"></div>
<svg class="abs" style="left:820.00px;top:302.00px;" width="16" height="16" viewBox="0 0 16 16"><path d="M4.6 8.1 L7.2 10.5 L11.8 5.5" fill="none" stroke="#fff" stroke-width="2" stroke-linecap="round" stroke-linejoin="round"/></svg>
<div class="abs" style="left:843.00px;top:302.78px;font-size:14.2px;line-height:17px;color:#2d2d2d;font-weight:normal;letter-spacing:-0.3px;white-space:nowrap;">Start</div>
<div class="abs" style="left:820.00px;top:326.00px;width:16.00px;height:16.00px;background:#075fbe;border-radius:2.5px"></div>
<svg class="abs" style="left:820.00px;top:326.00px;" width="16" height="16" viewBox="0 0 16 16"><path d="M4.6 8.1 L7.2 10.5 L11.8 5.5" fill="none" stroke="#fff" stroke-width="2" stroke-linecap="round" stroke-linejoin="round"/></svg>
<div class="abs" style="left:843.00px;top:326.78px;font-size:14.2px;line-height:17px;color:#2d2d2d;font-weight:normal;letter-spacing:-0.3px;white-space:nowrap;">End</div>
<div class="abs" style="left:820.00px;top:350.00px;width:16.00px;height:16.00px;background:#075fbe;border-radius:2.5px"></div>
<svg class="abs" style="left:820.00px;top:350.00px;" width="16" height="16" viewBox="0 0 16 16"><path d="M4.6 8.1 L7.2 10.5 L11.8 5.5" fill="none" stroke="#fff" stroke-width="2" stroke-linecap="round" stroke-linejoin="round"/></svg>
<div class="abs" style="left:843.00px;top:350.78px;font-size:14.2px;line-height:17px;color:#2d2d2d;font-weight:normal;letter-spacing:-0.3px;white-space:nowrap;">Delta</div>
<div class="abs" style="left:820.00px;top:374.00px;width:16.00px;height:16.00px;background:#075fbe;border-radius:2.5px"></div>
<svg class="abs" style="left:820.00px;top:374.00px;" width="16" height="16" viewBox="0 0 16 16"><path d="M4.6 8.1 L7.2 10.5 L11.8 5.5" fill="none" stroke="#fff" stroke-width="2" stroke-linecap="round" stroke-linejoin="round"/></svg>
<div class="abs" style="left:843.00px;top:374.78px;font-size:14.2px;line-height:17px;color:#2d2d2d;font-weight:normal;letter-spacing:-0.3px;white-space:nowrap;">Units</div>
<div class="abs" style="left:820.20px;top:419.20px;font-size:12.4px;line-height:15px;color:#9b9b9b;font-weight:normal;letter-spacing:-0.5px;white-space:nowrap;">ALIAS</div>
<div class="abs" style="left:820.00px;top:449.00px;width:420.00px;height:1.00px;background:#dcdcdc;"></div>
<div class="abs" style="left:820.00px;top:462.30px;width:16.00px;height:16.00px;background:#075fbe;border-radius:2.5px"></div>
<svg class="abs" style="left:820.00px;top:462.30px;" width="16" height="16" viewBox="0 0 16 16"><path d="M4.6 8.1 L7.2 10.5 L11.8 5.5" fill="none" stroke="#fff" stroke-width="2" stroke-linecap="round" stroke-linejoin="round"/></svg>
<div class="abs" style="left:843.00px;top:463.08px;font-size:14.2px;line-height:17px;color:#2d2d2d;font-weight:normal;letter-spacing:-0.3px;white-space:nowrap;">Show chart alias</div>
<div class="abs" style="left:780.00px;top:718.00px;width:500.00px;height:1.00px;background:#e0e0e0;"></div>
<div class="abs" style="left:900.70px;top:752.09px;font-size:16.2px;line-height:19px;color:#9b9b9b;font-weight:normal;letter-spacing:-0.55px;white-space:nowrap;">Cancel</div>
<div class="abs" style="left:1030.20px;top:740.20px;width:209.50px;height:39.50px;background:#021e5c;border-radius:3px"></div>
<div class="abs" style="left:1030.20px;top:741.60px;width:209.50px;height:39.50px;font-size:16.2px;line-height:39.5px;text-align:center;color:#fff;letter-spacing:-0.65px;-webkit-text-stroke:0.25px #fff">Save changes</div>
</div>
</div>
</body></html>
